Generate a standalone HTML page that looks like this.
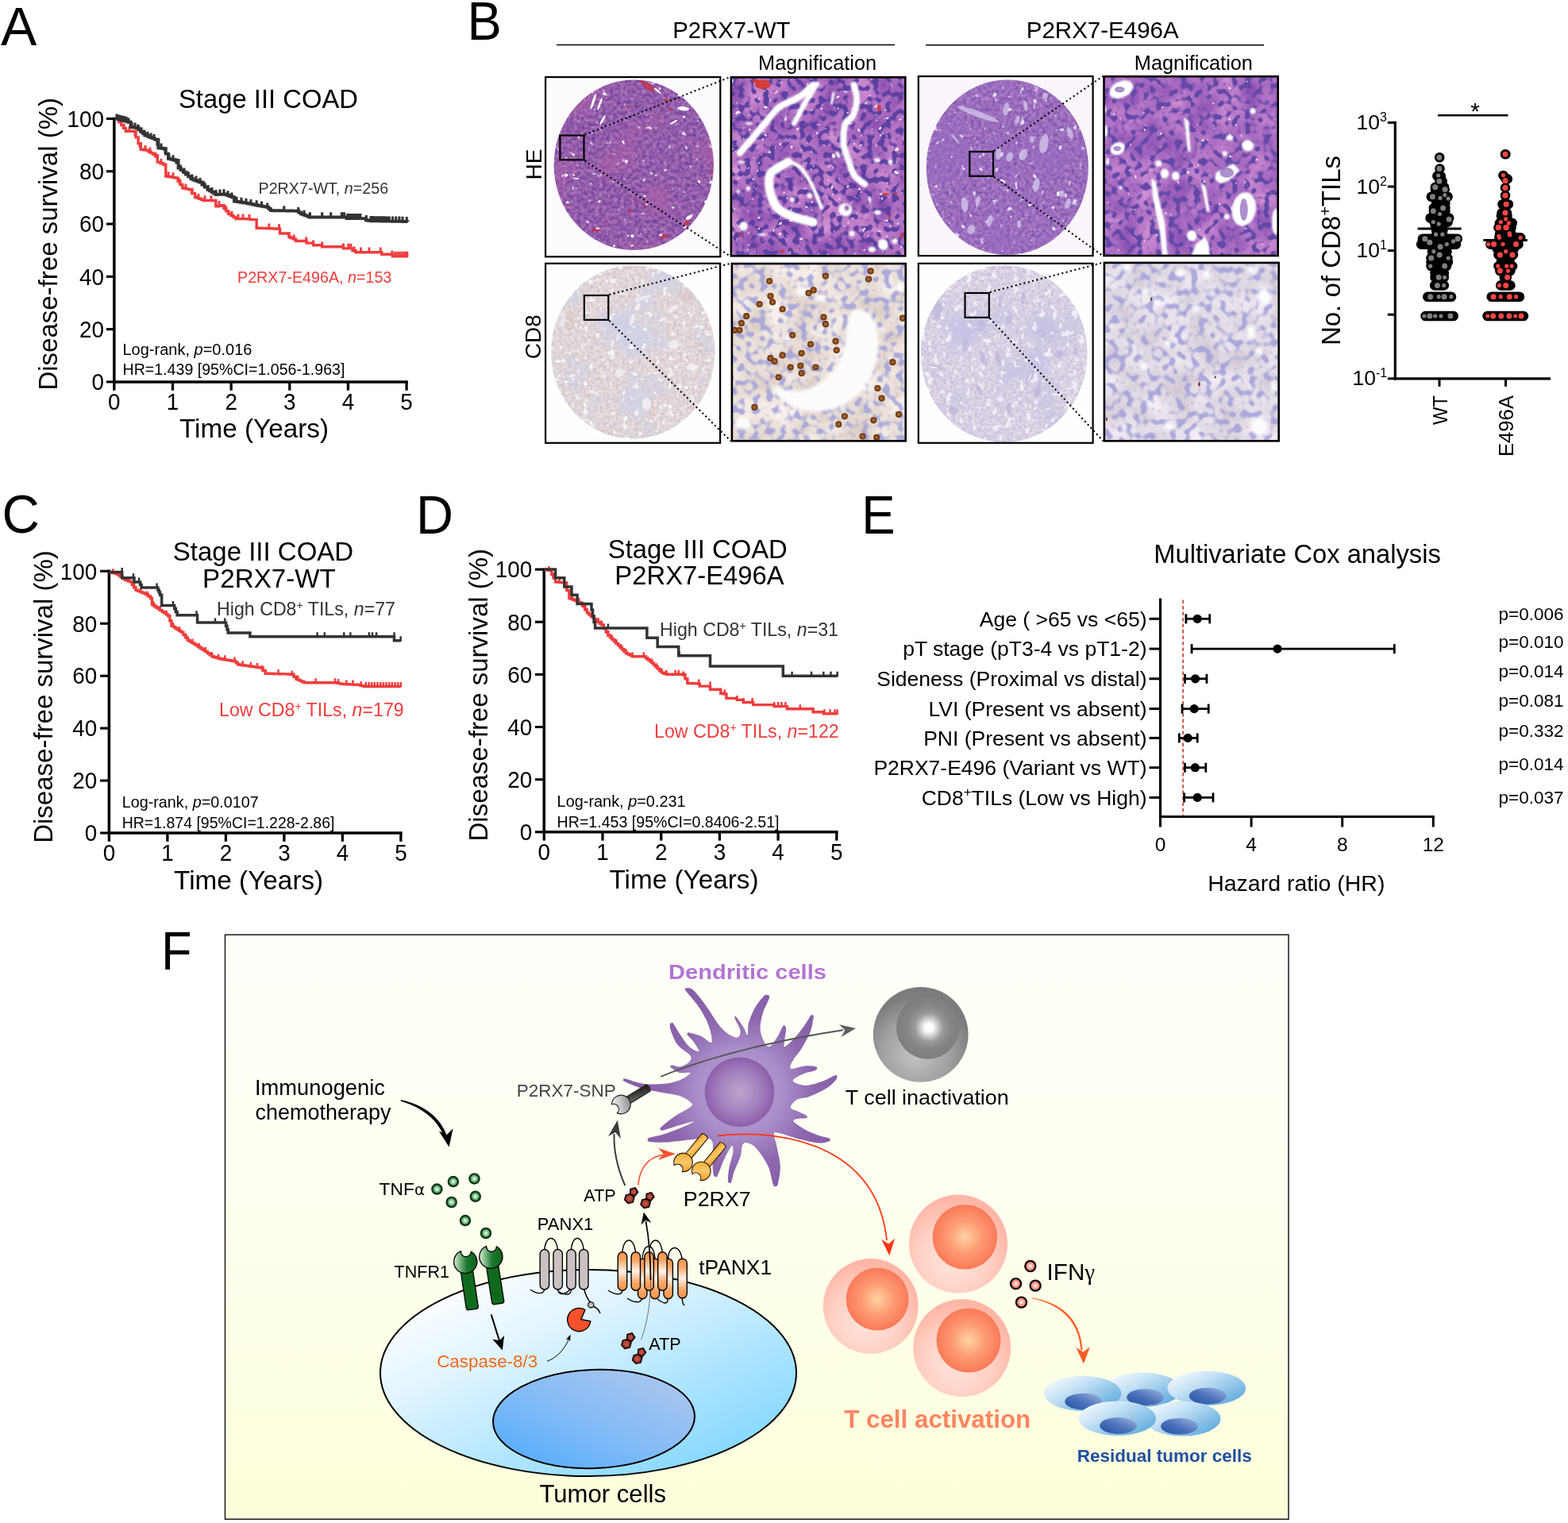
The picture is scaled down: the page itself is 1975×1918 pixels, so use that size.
<!DOCTYPE html>
<html lang="en"><head><meta charset="utf-8"><title>Figure</title>
<style>html,body{margin:0;padding:0;background:#fff}body{width:1975px;height:1918px;overflow:hidden}svg text{white-space:pre}</style></head>
<body>
<svg width="1975" height="1918" viewBox="0 0 1975 1918" font-family="'Liberation Sans', sans-serif" style="display:block">
<rect width="1975" height="1918" fill="#fff"/>
<defs>
<filter id="fHE1" x="0" y="0" width="100%" height="100%" color-interpolation-filters="sRGB"><feTurbulence type="fractalNoise" baseFrequency="0.22" numOctaves="3" seed="11" result="n"/><feColorMatrix in="n" type="matrix" values="0.420 0.000 0.000 0.000 0.363 0.360 0.000 0.000 0.000 0.181 0.220 0.000 0.000 0.000 0.561 0 0 0 0 1" result="c"/><feTurbulence type="fractalNoise" baseFrequency="0.018" numOctaves="2" seed="16" result="n2"/><feColorMatrix in="n2" type="matrix" values="0 0 0 0 0.68  0 0 0 0 0.38  0 0 0 0 0.65  2.4 0 0 0 -1.15" result="t"/><feTurbulence type="fractalNoise" baseFrequency="0.12" numOctaves="2" seed="20" result="n3"/><feColorMatrix in="n3" type="matrix" values="0 0 0 0 1  0 0 0 0 0.98  0 0 0 0 1  0 0 9 0 -6.4" result="w"/><feMerge><feMergeNode in="c"/><feMergeNode in="t"/><feMergeNode in="w"/></feMerge><feComposite in2="SourceGraphic" operator="in"/></filter>
<filter id="fHE3" x="0" y="0" width="100%" height="100%" color-interpolation-filters="sRGB"><feTurbulence type="fractalNoise" baseFrequency="0.22" numOctaves="3" seed="31" result="n"/><feColorMatrix in="n" type="matrix" values="0.360 0.000 0.000 0.000 0.424 0.320 0.000 0.000 0.000 0.264 0.200 0.000 0.000 0.000 0.637 0 0 0 0 1" result="c"/><feTurbulence type="fractalNoise" baseFrequency="0.018" numOctaves="2" seed="36" result="n2"/><feColorMatrix in="n2" type="matrix" values="0 0 0 0 0.6  0 0 0 0 0.42  0 0 0 0 0.76  2.4 0 0 0 -1.15" result="t"/><feTurbulence type="fractalNoise" baseFrequency="0.12" numOctaves="2" seed="40" result="n3"/><feColorMatrix in="n3" type="matrix" values="0 0 0 0 0.9  0 0 0 0 0.88  0 0 0 0 0.97  0 0 9 0 -6.2" result="w"/><feMerge><feMergeNode in="c"/><feMergeNode in="t"/><feMergeNode in="w"/></feMerge><feComposite in2="SourceGraphic" operator="in"/></filter>
<filter id="fCD5" x="0" y="0" width="100%" height="100%" color-interpolation-filters="sRGB"><feTurbulence type="fractalNoise" baseFrequency="0.25" numOctaves="3" seed="41" result="n"/><feColorMatrix in="n" type="matrix" values="0.220 0.000 0.000 0.000 0.768 0.220 0.000 0.000 0.000 0.725 0.160 0.000 0.000 0.000 0.767 0 0 0 0 1" result="c"/><feTurbulence type="fractalNoise" baseFrequency="0.018" numOctaves="2" seed="46" result="n2"/><feColorMatrix in="n2" type="matrix" values="0 0 0 0 0.82  0 0 0 0 0.82  0 0 0 0 0.9  3.2 0 0 0 -1.45" result="t"/><feTurbulence type="fractalNoise" baseFrequency="0.12" numOctaves="2" seed="50" result="n3"/><feColorMatrix in="n3" type="matrix" values="0 0 0 0 0.97  0 0 0 0 0.96  0 0 0 0 0.97  0 0 9 0 -5.7" result="w"/><feMerge><feMergeNode in="c"/><feMergeNode in="t"/><feMergeNode in="w"/></feMerge><feComposite in2="SourceGraphic" operator="in"/></filter>
<filter id="fCD7" x="0" y="0" width="100%" height="100%" color-interpolation-filters="sRGB"><feTurbulence type="fractalNoise" baseFrequency="0.25" numOctaves="3" seed="57" result="n"/><feColorMatrix in="n" type="matrix" values="0.220 0.000 0.000 0.000 0.737 0.220 0.000 0.000 0.000 0.706 0.160 0.000 0.000 0.000 0.806 0 0 0 0 1" result="c"/><feTurbulence type="fractalNoise" baseFrequency="0.018" numOctaves="2" seed="62" result="n2"/><feColorMatrix in="n2" type="matrix" values="0 0 0 0 0.78  0 0 0 0 0.76  0 0 0 0 0.9  3.2 0 0 0 -1.45" result="t"/><feTurbulence type="fractalNoise" baseFrequency="0.12" numOctaves="2" seed="66" result="n3"/><feColorMatrix in="n3" type="matrix" values="0 0 0 0 0.95  0 0 0 0 0.93  0 0 0 0 0.96  0 0 9 0 -5.4" result="w"/><feMerge><feMergeNode in="c"/><feMergeNode in="t"/><feMergeNode in="w"/></feMerge><feComposite in2="SourceGraphic" operator="in"/></filter>
<filter id="fHE2" x="0" y="0" width="100%" height="100%" color-interpolation-filters="sRGB"><feTurbulence type="fractalNoise" baseFrequency="0.03" numOctaves="3" seed="3" result="n"/><feColorMatrix in="n" type="matrix" values="0.450 0.000 0.000 0.000 0.450 0.400 0.000 0.000 0.000 0.224 0.220 0.000 0.000 0.000 0.639 0 0 0 0 1" result="c"/><feTurbulence type="fractalNoise" baseFrequency="0.13" numOctaves="1" seed="23" result="n2"/><feColorMatrix in="n2" type="matrix" values="0 0 0 0 0.361  0 0 0 0 0.251  0 0 0 0 0.635  8 0 0 0 -3.95" result="d0"/><feComponentTransfer in="d0" result="d"><feFuncA type="linear" slope="1.0" intercept="0"/></feComponentTransfer><feTurbulence type="fractalNoise" baseFrequency="0.15" numOctaves="2" seed="43" result="n3"/><feColorMatrix in="n3" type="matrix" values="0 0 0 0 1  0 0 0 0 0.97  0 0 0 0 1  0 0 9 0 -6.3" result="w"/><feMerge><feMergeNode in="c"/><feMergeNode in="d"/><feMergeNode in="w"/></feMerge><feComposite in2="SourceGraphic" operator="in"/></filter>
<filter id="fHE4" x="0" y="0" width="100%" height="100%" color-interpolation-filters="sRGB"><feTurbulence type="fractalNoise" baseFrequency="0.03" numOctaves="3" seed="9" result="n"/><feColorMatrix in="n" type="matrix" values="0.420 0.000 0.000 0.000 0.465 0.380 0.000 0.000 0.000 0.241 0.200 0.000 0.000 0.000 0.661 0 0 0 0 1" result="c"/><feTurbulence type="fractalNoise" baseFrequency="0.125" numOctaves="1" seed="29" result="n2"/><feColorMatrix in="n2" type="matrix" values="0 0 0 0 0.384  0 0 0 0 0.282  0 0 0 0 0.659  8 0 0 0 -4.05" result="d0"/><feComponentTransfer in="d0" result="d"><feFuncA type="linear" slope="1.0" intercept="0"/></feComponentTransfer><feTurbulence type="fractalNoise" baseFrequency="0.15" numOctaves="2" seed="49" result="n3"/><feColorMatrix in="n3" type="matrix" values="0 0 0 0 1  0 0 0 0 0.97  0 0 0 0 1  0 0 9 0 -6.8" result="w"/><feMerge><feMergeNode in="c"/><feMergeNode in="d"/><feMergeNode in="w"/></feMerge><feComposite in2="SourceGraphic" operator="in"/></filter>
<filter id="fCD6" x="0" y="0" width="100%" height="100%" color-interpolation-filters="sRGB"><feTurbulence type="fractalNoise" baseFrequency="0.03" numOctaves="3" seed="13" result="n"/><feColorMatrix in="n" type="matrix" values="0.200 0.000 0.000 0.000 0.818 0.240 0.000 0.000 0.000 0.755 0.260 0.000 0.000 0.000 0.717 0 0 0 0 1" result="c"/><feTurbulence type="fractalNoise" baseFrequency="0.115" numOctaves="1" seed="33" result="n2"/><feColorMatrix in="n2" type="matrix" values="0 0 0 0 0.643  0 0 0 0 0.643  0 0 0 0 0.855  6 0 0 0 -2.95" result="d0"/><feComponentTransfer in="d0" result="d"><feFuncA type="linear" slope="0.9" intercept="0"/></feComponentTransfer><feMerge><feMergeNode in="c"/><feMergeNode in="d"/></feMerge><feComposite in2="SourceGraphic" operator="in"/></filter>
<filter id="fCD8" x="0" y="0" width="100%" height="100%" color-interpolation-filters="sRGB"><feTurbulence type="fractalNoise" baseFrequency="0.03" numOctaves="3" seed="17" result="n"/><feColorMatrix in="n" type="matrix" values="0.200 0.000 0.000 0.000 0.786 0.220 0.000 0.000 0.000 0.745 0.200 0.000 0.000 0.000 0.794 0 0 0 0 1" result="c"/><feTurbulence type="fractalNoise" baseFrequency="0.11" numOctaves="1" seed="37" result="n2"/><feColorMatrix in="n2" type="matrix" values="0 0 0 0 0.651  0 0 0 0 0.635  0 0 0 0 0.855  6 0 0 0 -2.95" result="d0"/><feComponentTransfer in="d0" result="d"><feFuncA type="linear" slope="0.9" intercept="0"/></feComponentTransfer><feMerge><feMergeNode in="c"/><feMergeNode in="d"/></feMerge><feComposite in2="SourceGraphic" operator="in"/></filter>
<filter id="bl1" x="-20%" y="-20%" width="140%" height="140%"><feGaussianBlur stdDeviation="1"/></filter>
<filter id="bl2" x="-20%" y="-20%" width="140%" height="140%"><feGaussianBlur stdDeviation="2"/></filter>
<filter id="bl05" x="-20%" y="-20%" width="140%" height="140%"><feGaussianBlur stdDeviation="0.6"/></filter>
<clipPath id="cb1"><rect x="687" y="97" width="220.4" height="226.4"/></clipPath>
<clipPath id="cb2"><rect x="920.6" y="97" width="220.0" height="225.6"/></clipPath>
<clipPath id="cb3"><rect x="1156.7" y="96" width="220.0" height="226.2"/></clipPath>
<clipPath id="cb4"><rect x="1390.2" y="96" width="219.8" height="226.3"/></clipPath>
<clipPath id="cb5"><rect x="687" y="331.7" width="220.2" height="226.2"/></clipPath>
<clipPath id="cb6"><rect x="921.6" y="331.7" width="219.4" height="223.9"/></clipPath>
<clipPath id="cb7"><rect x="1156.7" y="331.7" width="220.0" height="226.2"/></clipPath>
<clipPath id="cb8"><rect x="1390.6" y="330.6" width="220.4" height="225.0"/></clipPath>
<clipPath id="ce1"><ellipse cx="798.3" cy="207.8" rx="100.2" ry="106.8"/></clipPath>
<clipPath id="ce3"><ellipse cx="1268.8" cy="210.8" rx="101.6" ry="109.8"/></clipPath>
<clipPath id="ce5"><ellipse cx="797.3" cy="443.4" rx="102.7" ry="108.8"/></clipPath>
<clipPath id="ce7"><ellipse cx="1264.7" cy="445.5" rx="104.4" ry="110.9"/></clipPath>
</defs>
<defs>
<linearGradient id="gBg" x1="0" y1="0" x2="0" y2="1"><stop offset="0" stop-color="#fffffa"/><stop offset="0.45" stop-color="#fefff0"/><stop offset="1" stop-color="#fdffda"/></linearGradient>
<linearGradient id="gCell" x1="0.1" y1="0.1" x2="0.85" y2="0.9"><stop offset="0" stop-color="#ffffff"/><stop offset="0.3" stop-color="#e2f5ff"/><stop offset="0.75" stop-color="#a6e2ff"/><stop offset="1" stop-color="#86d8ff"/></linearGradient>
<linearGradient id="gNuc" x1="0.1" y1="0.9" x2="0.9" y2="0.1"><stop offset="0" stop-color="#58aefc"/><stop offset="0.5" stop-color="#86bcf6"/><stop offset="1" stop-color="#aac6ee"/></linearGradient>
<radialGradient id="gDC" gradientUnits="userSpaceOnUse" cx="932.0" cy="1375.5" r="125"><stop offset="0" stop-color="#b9a6d6"/><stop offset="0.45" stop-color="#a88cc8"/><stop offset="0.75" stop-color="#8e66ae"/><stop offset="1" stop-color="#8660a8"/></radialGradient>
<radialGradient id="gDCn" cx="0.5" cy="0.5" r="0.5"><stop offset="0" stop-color="#bfa3cf"/><stop offset="0.55" stop-color="#a684c0"/><stop offset="0.92" stop-color="#9166ae"/><stop offset="1" stop-color="#8a5ea8"/></radialGradient>
<radialGradient id="gTg" cx="0.45" cy="0.7" r="0.6"><stop offset="0" stop-color="#c4c4c4"/><stop offset="0.6" stop-color="#a0a0a0"/><stop offset="1" stop-color="#7c7c7c"/></radialGradient>
<radialGradient id="gTgn" cx="0.52" cy="0.5" r="0.5"><stop offset="0" stop-color="#ffffff"/><stop offset="0.12" stop-color="#ffffff"/><stop offset="0.45" stop-color="#9a9a9a"/><stop offset="0.7" stop-color="#858585"/><stop offset="1" stop-color="#7e7e7e"/></radialGradient>
<radialGradient id="gTp" cx="0.45" cy="0.65" r="0.6"><stop offset="0" stop-color="#ffe6de"/><stop offset="0.6" stop-color="#ffd0c4"/><stop offset="1" stop-color="#ffb6a6"/></radialGradient>
<radialGradient id="gTpn" cx="0.5" cy="0.5" r="0.5"><stop offset="0" stop-color="#ffd2a2"/><stop offset="0.5" stop-color="#fd9c74"/><stop offset="1" stop-color="#fa7a58"/></radialGradient>
<radialGradient id="gGreen" cx="0.5" cy="0.5" r="0.5"><stop offset="0" stop-color="#ffffff"/><stop offset="0.2" stop-color="#d0ecd2"/><stop offset="0.75" stop-color="#4a9e5c"/><stop offset="1" stop-color="#348a48"/></radialGradient>
<radialGradient id="gIfn" cx="0.5" cy="0.5" r="0.5"><stop offset="0" stop-color="#ffffff"/><stop offset="0.2" stop-color="#ffd8d0"/><stop offset="1" stop-color="#f0523c"/></radialGradient>
<linearGradient id="gRes" x1="0.1" y1="0.1" x2="0.95" y2="0.8"><stop offset="0" stop-color="#f2f8fd"/><stop offset="0.35" stop-color="#c6e2f5"/><stop offset="1" stop-color="#62acdf"/></linearGradient>
<linearGradient id="gResN" x1="0.1" y1="0.9" x2="0.9" y2="0.1"><stop offset="0" stop-color="#2a56a8"/><stop offset="0.5" stop-color="#4f74bc"/><stop offset="1" stop-color="#93abdb"/></linearGradient>
<linearGradient id="gOr" x1="0" y1="0" x2="0" y2="1"><stop offset="0" stop-color="#f6924a"/><stop offset="0.22" stop-color="#f9a868"/><stop offset="0.5" stop-color="#fff4ea"/><stop offset="0.78" stop-color="#f9a868"/><stop offset="1" stop-color="#f6924a"/></linearGradient>
<linearGradient id="gGrH" x1="0" y1="0" x2="1" y2="0"><stop offset="0" stop-color="#d4ecd4"/><stop offset="0.55" stop-color="#1d7a2e"/><stop offset="1" stop-color="#0b6318"/></linearGradient>
<linearGradient id="gP2" x1="0" y1="1" x2="1" y2="0"><stop offset="0" stop-color="#f29a16"/><stop offset="0.5" stop-color="#fbc869"/><stop offset="1" stop-color="#f0a020"/></linearGradient>
<linearGradient id="gSnpH" x1="0" y1="0.3" x2="1" y2="0.7"><stop offset="0" stop-color="#f4f4f4"/><stop offset="1" stop-color="#8c8c8c"/></linearGradient>
<linearGradient id="gSnpS" x1="0" y1="1" x2="1" y2="0"><stop offset="0" stop-color="#7a7a7a"/><stop offset="0.6" stop-color="#3a3434"/><stop offset="1" stop-color="#1c1818"/></linearGradient>
<radialGradient id="gAtp" cx="0.5" cy="0.5" r="0.5"><stop offset="0" stop-color="#d05848"/><stop offset="1" stop-color="#8c2a1c"/></radialGradient>
</defs>
<g id="panelA">
<text x="1.00" y="57.00" font-size="68" text-anchor="start" fill="#000">A</text>
<text x="338.00" y="136.00" font-size="32.8" text-anchor="middle" fill="#000">Stage III COAD</text>
<line x1="143.85" y1="147.80" x2="143.85" y2="482.60" stroke="#000" stroke-width="3.5"/>
<line x1="142.15" y1="480.90" x2="513.80" y2="480.90" stroke="#000" stroke-width="3.5"/>
<line x1="133.95" y1="480.90" x2="143.85" y2="480.90" stroke="#000" stroke-width="3.1"/>
<text x="130.95" y="491.20" font-size="29.2" text-anchor="end" fill="#000" textLength="15.5" lengthAdjust="spacingAndGlyphs">0</text>
<line x1="143.85" y1="480.90" x2="143.85" y2="491.70" stroke="#000" stroke-width="3.3"/>
<text x="143.85" y="515.60" font-size="29.2" text-anchor="middle" fill="#000" textLength="15.5" lengthAdjust="spacingAndGlyphs">0</text>
<line x1="133.95" y1="414.62" x2="143.85" y2="414.62" stroke="#000" stroke-width="3.1"/>
<text x="130.95" y="424.92" font-size="29.2" text-anchor="end" fill="#000" textLength="31.0" lengthAdjust="spacingAndGlyphs">20</text>
<line x1="217.50" y1="480.90" x2="217.50" y2="491.70" stroke="#000" stroke-width="3.3"/>
<text x="217.50" y="515.60" font-size="29.2" text-anchor="middle" fill="#000" textLength="15.5" lengthAdjust="spacingAndGlyphs">1</text>
<line x1="133.95" y1="348.34" x2="143.85" y2="348.34" stroke="#000" stroke-width="3.1"/>
<text x="130.95" y="358.64" font-size="29.2" text-anchor="end" fill="#000" textLength="31.0" lengthAdjust="spacingAndGlyphs">40</text>
<line x1="291.15" y1="480.90" x2="291.15" y2="491.70" stroke="#000" stroke-width="3.3"/>
<text x="291.15" y="515.60" font-size="29.2" text-anchor="middle" fill="#000" textLength="15.5" lengthAdjust="spacingAndGlyphs">2</text>
<line x1="133.95" y1="282.06" x2="143.85" y2="282.06" stroke="#000" stroke-width="3.1"/>
<text x="130.95" y="292.36" font-size="29.2" text-anchor="end" fill="#000" textLength="31.0" lengthAdjust="spacingAndGlyphs">60</text>
<line x1="364.80" y1="480.90" x2="364.80" y2="491.70" stroke="#000" stroke-width="3.3"/>
<text x="364.80" y="515.60" font-size="29.2" text-anchor="middle" fill="#000" textLength="15.5" lengthAdjust="spacingAndGlyphs">3</text>
<line x1="133.95" y1="215.78" x2="143.85" y2="215.78" stroke="#000" stroke-width="3.1"/>
<text x="130.95" y="226.08" font-size="29.2" text-anchor="end" fill="#000" textLength="31.0" lengthAdjust="spacingAndGlyphs">80</text>
<line x1="438.45" y1="480.90" x2="438.45" y2="491.70" stroke="#000" stroke-width="3.3"/>
<text x="438.45" y="515.60" font-size="29.2" text-anchor="middle" fill="#000" textLength="15.5" lengthAdjust="spacingAndGlyphs">4</text>
<line x1="133.95" y1="149.50" x2="143.85" y2="149.50" stroke="#000" stroke-width="3.1"/>
<text x="130.95" y="159.80" font-size="29.2" text-anchor="end" fill="#000" textLength="46.5" lengthAdjust="spacingAndGlyphs">100</text>
<line x1="512.10" y1="480.90" x2="512.10" y2="491.70" stroke="#000" stroke-width="3.3"/>
<text x="512.10" y="515.60" font-size="29.2" text-anchor="middle" fill="#000" textLength="15.5" lengthAdjust="spacingAndGlyphs">5</text>
<text x="319.98" y="550.50" font-size="33.3" text-anchor="middle" fill="#000">Time (Years)</text>
<text x="72.00" y="307.30" font-size="33" text-anchor="middle" fill="#000" transform="rotate(-90 72.00 307.30)">Disease-free survival (%)</text>
<path d="M145.8,149.5 L150.0,149.5 L150.0,153.7 L152.8,153.7 L152.8,157.5 L155.6,157.5 L155.6,161.4 L158.4,161.4 L158.4,165.2 L167.8,165.2 L171.0,165.2 L171.0,172.9 L174.1,172.9 L174.1,180.6 L177.3,180.6 L177.3,188.3 L181.0,188.3 L181.0,188.9 L184.7,188.9 L184.7,189.4 L187.3,189.4 L187.3,191.0 L189.9,191.0 L189.9,192.6 L192.6,192.6 L192.6,194.1 L195.2,194.1 L195.2,195.7 L198.3,195.7 L198.3,204.1 L202.0,204.1 L202.0,205.7 L205.7,205.7 L205.7,207.3 L208.8,207.3 L208.8,222.0 L212.0,222.0 L212.0,222.5 L215.1,222.5 L215.1,223.1 L218.2,223.1 L218.2,223.6 L221.4,223.6 L221.4,224.1 L224.2,224.1 L224.2,228.3 L227.0,228.3 L227.0,232.5 L229.8,232.5 L229.8,236.7 L232.6,236.7 L232.6,237.4 L235.5,237.4 L235.5,238.1 L238.3,238.1 L238.3,238.8 L241.9,238.8 L241.9,243.6 L245.6,243.6 L245.6,248.3 L248.2,248.3 L248.2,249.4 L250.9,249.4 L250.9,250.4 L253.5,250.4 L253.5,251.4 L256.1,251.4 L256.1,252.5 L269.8,252.5 L271.9,252.5 L271.9,259.8 L275.5,259.8 L275.5,259.3 L279.2,259.3 L279.2,258.8 L282.0,258.8 L282.0,262.3 L284.8,262.3 L284.8,265.8 L287.6,265.8 L287.6,269.3 L290.8,269.3 L290.8,271.4 L293.9,271.4 L293.9,273.5 L297.1,273.5 L297.1,275.6 L308.7,275.6 L311.3,275.6 L311.3,275.9 L313.9,275.9 L313.9,276.1 L316.6,276.1 L316.6,276.4 L319.2,276.4 L319.2,276.6 L323.2,276.6 L323.2,287.2 L326.3,287.2 L326.3,287.3 L329.5,287.3 L329.5,287.4 L332.6,287.4 L332.6,287.5 L335.8,287.5 L335.8,287.6 L338.9,287.6 L338.9,287.8 L342.1,287.8 L342.1,287.9 L345.2,287.9 L345.2,288.0 L348.4,288.0 L348.4,288.1 L351.5,288.1 L351.5,288.2 L352.6,288.2 L352.6,294.0 L363.1,294.0 L364.1,294.0 L364.1,298.8 L366.8,298.8 L366.8,299.9 L369.4,299.9 L369.4,300.9 L372.5,300.9 L372.5,303.5 L385.2,303.5 L386.2,303.5 L386.2,306.1 L393.6,306.1 L394.6,306.1 L394.6,308.7 L405.1,308.7 L405.7,308.7 L405.7,310.8 L431.4,310.8 L432.5,310.8 L432.5,312.9 L441.9,312.9 L444.0,312.9 L444.0,315.6 L448.2,315.6 L448.2,317.7 L479.7,317.7 L480.8,317.7 L480.8,320.3 L493.4,320.3 L494.5,320.3 L494.5,322.9 L513.4,322.9" fill="none" stroke="#f03c3c" stroke-width="3.4" stroke-linejoin="miter" stroke-linecap="butt"/>
<path d="M150.0,154.7v-7.2M156.0,162.9v-7.2M163.0,166.2v-7.2M170.0,171.5v-7.2M176.0,186.1v-7.2M183.0,190.1v-7.2M189.0,193.0v-7.2M196.0,198.9v-7.2M203.0,207.1v-7.2M212.0,223.5v-7.2M218.0,224.5v-7.2M226.0,232.0v-7.2M234.0,238.7v-7.2M242.0,244.6v-7.2M250.0,251.1v-7.2M258.0,253.5v-7.2M266.0,253.5v-7.2M276.0,260.2v-7.2M284.0,265.8v-7.2M292.0,273.2v-7.2M300.0,276.6v-7.2M306.0,276.6v-7.2M314.0,277.1v-7.2M338.9,288.8v-7.2M351.5,289.4v-7.2M364.1,299.8v-7.2M370.4,302.8v-7.2M385.7,305.8v-7.2M394.6,309.7v-7.2M405.7,311.6v-7.2M432.5,313.8v-7.2M438.8,313.9v-7.2M441.9,313.9v-7.2M446.1,317.7v-7.2M454.5,318.7v-7.2M465.0,318.7v-7.2M479.2,318.7v-7.2M493.9,322.6v-7.2M497.6,323.9v-7.2M500.8,323.9v-7.2M503.9,323.9v-7.2M507.1,323.9v-7.2M510.2,323.9v-7.2M512.9,323.9v-7.2" fill="none" stroke="#f03c3c" stroke-width="2.9"/>
<path d="M145.8,149.5 L148.9,149.5 L148.9,150.3 L152.1,150.3 L152.1,151.2 L155.2,151.2 L155.2,152.0 L158.4,152.0 L158.4,152.9 L161.5,152.9 L161.5,153.7 L164.7,153.7 L164.7,160.0 L168.3,160.0 L168.3,160.5 L172.0,160.5 L172.0,161.0 L174.6,161.0 L174.6,163.4 L177.2,163.4 L177.2,165.8 L179.9,165.8 L179.9,168.1 L182.5,168.1 L182.5,170.5 L185.7,170.5 L185.7,171.8 L188.8,171.8 L188.8,173.1 L192.0,173.1 L192.0,174.4 L195.2,174.4 L195.2,175.7 L199.4,175.7 L199.4,186.2 L202.6,186.2 L202.6,186.8 L205.7,186.8 L205.7,187.3 L208.8,187.3 L208.8,193.6 L212.0,193.6 L212.0,199.9 L214.8,199.9 L214.8,200.6 L217.6,200.6 L217.6,201.3 L220.4,201.3 L220.4,202.0 L224.6,202.0 L224.6,211.5 L227.8,211.5 L227.8,214.1 L230.9,214.1 L230.9,216.7 L234.0,216.7 L234.0,219.5 L237.2,219.5 L237.2,222.3 L240.3,222.3 L240.3,225.1 L243.0,225.1 L243.0,226.2 L245.6,226.2 L245.6,227.2 L248.2,227.2 L248.2,228.2 L250.9,228.2 L250.9,229.3 L254.4,229.3 L254.4,232.5 L257.9,232.5 L257.9,235.6 L261.4,235.6 L261.4,238.8 L264.0,238.8 L264.0,240.4 L266.6,240.4 L266.6,241.9 L269.3,241.9 L269.3,243.5 L271.9,243.5 L271.9,245.1 L274.5,245.1 L274.5,244.9 L277.1,244.9 L277.1,244.8 L279.8,244.8 L279.8,244.7 L282.4,244.7 L282.4,244.5 L285.5,244.5 L285.5,245.8 L288.7,245.8 L288.7,247.0 L291.8,247.0 L291.8,248.3 L295.0,248.3 L295.0,253.5 L297.7,253.5 L297.7,253.9 L300.5,253.9 L300.5,254.3 L303.2,254.3 L303.2,254.8 L306.0,254.8 L306.0,255.2 L308.7,255.2 L308.7,255.6 L311.8,255.6 L311.8,256.2 L315.0,256.2 L315.0,256.9 L318.1,256.9 L318.1,257.5 L321.3,257.5 L321.3,258.2 L324.4,258.2 L324.4,258.8 L327.2,258.8 L327.2,259.3 L330.1,259.3 L330.1,259.9 L332.9,259.9 L332.9,260.4 L335.8,260.4 L335.8,260.9 L338.4,260.9 L338.4,263.0 L341.0,263.0 L341.0,265.1 L344.0,265.1 L344.0,265.2 L346.9,265.2 L346.9,265.2 L349.9,265.2 L349.9,265.3 L352.9,265.3 L352.9,265.3 L355.8,265.3 L355.8,265.4 L358.8,265.4 L358.8,265.4 L361.7,265.4 L361.7,265.5 L364.7,265.5 L364.7,265.5 L367.7,265.5 L367.7,265.6 L370.6,265.6 L370.6,265.6 L373.6,265.6 L373.6,265.7 L376.2,265.7 L376.2,267.5 L378.9,267.5 L378.9,269.3 L381.5,269.3 L381.5,270.4 L384.1,270.4 L384.1,271.4 L386.8,271.4 L386.8,272.4 L389.4,272.4 L389.4,273.5 L434.6,273.5 L436.7,273.5 L436.7,275.1 L458.7,275.1 L460.8,275.1 L460.8,277.2 L464.0,277.2 L464.0,277.8 L467.1,277.8 L467.1,278.3 L470.2,278.3 L470.2,278.3 L473.2,278.3 L473.2,278.4 L476.3,278.4 L476.3,278.4 L479.4,278.4 L479.4,278.5 L482.4,278.5 L482.4,278.5 L485.5,278.5 L485.5,278.6 L488.6,278.6 L488.6,278.6 L491.6,278.6 L491.6,278.6 L494.7,278.6 L494.7,278.7 L497.8,278.7 L497.8,278.7 L500.8,278.7 L500.8,278.8 L503.9,278.8 L503.9,278.8 L507.1,278.8 L507.1,279.0 L510.2,279.0 L510.2,279.1 L513.4,279.1 L513.4,279.3" fill="none" stroke="#333333" stroke-width="3.9" stroke-linejoin="miter" stroke-linecap="butt"/>
<path d="M147.0,150.8v-7.2M150.0,151.6v-7.2M153.0,152.4v-7.2M156.0,153.2v-7.2M159.0,154.0v-7.2M162.0,155.7v-7.2M166.0,161.2v-7.2M170.0,161.7v-7.2M174.0,163.8v-7.2M178.0,167.4v-7.2M182.0,171.0v-7.2M186.0,172.9v-7.2M190.0,174.6v-7.2M194.0,176.2v-7.2M198.0,183.7v-7.2M203.0,187.8v-7.2M208.0,192.9v-7.2M213.0,201.2v-7.2M218.0,202.4v-7.2M222.0,206.6v-7.2M227.0,214.5v-7.2M232.0,218.7v-7.2M237.0,223.2v-7.2M242.0,226.8v-7.2M247.0,228.8v-7.2M252.0,231.3v-7.2M257.0,235.8v-7.2M262.0,240.2v-7.2M267.0,243.2v-7.2M272.0,246.1v-7.2M277.0,245.8v-7.2M282.0,245.5v-7.2M287.0,247.4v-7.2M292.0,249.6v-7.2M298.0,255.0v-7.2M304.0,255.9v-7.2M310.0,256.9v-7.2M316.0,258.1v-7.2M323.2,259.5v-7.2M329.5,260.7v-7.2M336.8,262.7v-7.2M357.8,266.4v-7.2M375.7,268.1v-7.2M383.1,272.0v-7.2M390.4,274.5v-7.2M405.7,274.5v-7.2M416.7,274.5v-7.2M430.4,274.5v-7.2M433.5,274.5v-7.2M437.7,276.1v-7.2M440.0,276.1v-7.2M442.3,276.1v-7.2M444.6,276.1v-7.2M447.0,276.1v-7.2M449.3,276.1v-7.2M451.6,276.1v-7.2M453.9,276.1v-7.2M461.4,278.3v-7.2M467.1,279.3v-7.2M469.2,279.3v-7.2M471.3,279.4v-7.2M473.4,279.4v-7.2M475.5,279.4v-7.2M477.6,279.4v-7.2M479.7,279.5v-7.2M481.8,279.5v-7.2M484.0,279.5v-7.2M486.1,279.6v-7.2M488.2,279.6v-7.2M490.3,279.6v-7.2M494.5,279.7v-7.2M498.7,279.7v-7.2M502.9,279.8v-7.2M507.1,280.0v-7.2M512.3,280.2v-7.2" fill="none" stroke="#333333" stroke-width="3.1"/>
<text x="325.50" y="244.30" font-size="19.7" text-anchor="start" fill="#333333">P2RX7-WT, <tspan font-style="italic">n</tspan>=256</text>
<text x="299.00" y="355.50" font-size="19.7" text-anchor="start" fill="#f03c3c">P2RX7-E496A, <tspan font-style="italic">n</tspan>=153</text>
<text x="154.50" y="446.80" font-size="20" text-anchor="start" fill="#000">Log-rank, <tspan font-style="italic">p</tspan>=0.016</text>
<text x="154.50" y="472.30" font-size="19.6" text-anchor="start" fill="#000">HR=1.439 [95%CI=1.056-1.963]</text>
</g>
<g id="panelC">
<text x="2.50" y="670.50" font-size="68" text-anchor="start" fill="#000" textLength="47.4" lengthAdjust="spacingAndGlyphs">C</text>
<text x="331.50" y="705.50" font-size="33" text-anchor="middle" fill="#000">Stage III COAD</text>
<text x="339.00" y="739.50" font-size="33.2" text-anchor="middle" fill="#000">P2RX7-WT</text>
<line x1="137.40" y1="717.60" x2="137.40" y2="1050.70" stroke="#000" stroke-width="3.5"/>
<line x1="135.70" y1="1049.00" x2="506.60" y2="1049.00" stroke="#000" stroke-width="3.5"/>
<line x1="126.10" y1="1049.00" x2="137.40" y2="1049.00" stroke="#000" stroke-width="3.1"/>
<text x="122.30" y="1059.30" font-size="29.2" text-anchor="end" fill="#000" textLength="15.5" lengthAdjust="spacingAndGlyphs">0</text>
<line x1="137.40" y1="1049.00" x2="137.40" y2="1059.80" stroke="#000" stroke-width="3.3"/>
<text x="137.40" y="1084.20" font-size="29.2" text-anchor="middle" fill="#000" textLength="15.5" lengthAdjust="spacingAndGlyphs">0</text>
<line x1="126.10" y1="983.06" x2="137.40" y2="983.06" stroke="#000" stroke-width="3.1"/>
<text x="122.30" y="993.36" font-size="29.2" text-anchor="end" fill="#000" textLength="31.0" lengthAdjust="spacingAndGlyphs">20</text>
<line x1="210.90" y1="1049.00" x2="210.90" y2="1059.80" stroke="#000" stroke-width="3.3"/>
<text x="210.90" y="1084.20" font-size="29.2" text-anchor="middle" fill="#000" textLength="15.5" lengthAdjust="spacingAndGlyphs">1</text>
<line x1="126.10" y1="917.12" x2="137.40" y2="917.12" stroke="#000" stroke-width="3.1"/>
<text x="122.30" y="927.42" font-size="29.2" text-anchor="end" fill="#000" textLength="31.0" lengthAdjust="spacingAndGlyphs">40</text>
<line x1="284.40" y1="1049.00" x2="284.40" y2="1059.80" stroke="#000" stroke-width="3.3"/>
<text x="284.40" y="1084.20" font-size="29.2" text-anchor="middle" fill="#000" textLength="15.5" lengthAdjust="spacingAndGlyphs">2</text>
<line x1="126.10" y1="851.18" x2="137.40" y2="851.18" stroke="#000" stroke-width="3.1"/>
<text x="122.30" y="861.48" font-size="29.2" text-anchor="end" fill="#000" textLength="31.0" lengthAdjust="spacingAndGlyphs">60</text>
<line x1="357.90" y1="1049.00" x2="357.90" y2="1059.80" stroke="#000" stroke-width="3.3"/>
<text x="357.90" y="1084.20" font-size="29.2" text-anchor="middle" fill="#000" textLength="15.5" lengthAdjust="spacingAndGlyphs">3</text>
<line x1="126.10" y1="785.24" x2="137.40" y2="785.24" stroke="#000" stroke-width="3.1"/>
<text x="122.30" y="795.54" font-size="29.2" text-anchor="end" fill="#000" textLength="31.0" lengthAdjust="spacingAndGlyphs">80</text>
<line x1="431.40" y1="1049.00" x2="431.40" y2="1059.80" stroke="#000" stroke-width="3.3"/>
<text x="431.40" y="1084.20" font-size="29.2" text-anchor="middle" fill="#000" textLength="15.5" lengthAdjust="spacingAndGlyphs">4</text>
<line x1="126.10" y1="719.30" x2="137.40" y2="719.30" stroke="#000" stroke-width="3.1"/>
<text x="122.30" y="729.60" font-size="29.2" text-anchor="end" fill="#000" textLength="46.5" lengthAdjust="spacingAndGlyphs">100</text>
<line x1="504.90" y1="1049.00" x2="504.90" y2="1059.80" stroke="#000" stroke-width="3.3"/>
<text x="504.90" y="1084.20" font-size="29.2" text-anchor="middle" fill="#000" textLength="15.5" lengthAdjust="spacingAndGlyphs">5</text>
<text x="313.15" y="1120.00" font-size="33.3" text-anchor="middle" fill="#000">Time (Years)</text>
<text x="66.00" y="877.50" font-size="33" text-anchor="middle" fill="#000" transform="rotate(-90 66.00 877.50)">Disease-free survival (%)</text>
<path d="M137.3,720.6 L139.6,720.6 L139.6,721.1 L141.9,721.1 L141.9,721.6 L144.2,721.6 L144.2,722.1 L146.5,722.1 L146.5,722.7 L149.1,722.7 L149.1,724.4 L151.6,724.4 L151.6,726.2 L154.2,726.2 L154.2,728.0 L156.7,728.0 L156.7,729.8 L159.1,729.8 L159.1,730.8 L161.5,730.8 L161.5,731.8 L163.9,731.8 L163.9,732.9 L166.3,732.9 L166.3,736.3 L168.6,736.3 L168.6,739.7 L171.0,739.7 L171.0,743.1 L173.5,743.1 L173.5,744.1 L175.9,744.1 L175.9,745.1 L178.4,745.1 L178.4,746.1 L180.8,746.1 L180.8,747.1 L183.3,747.1 L183.3,748.2 L186.3,748.2 L186.3,750.7 L189.4,750.7 L189.4,753.3 L191.4,753.3 L191.4,761.4 L194.0,761.4 L194.0,763.2 L196.5,763.2 L196.5,765.0 L199.1,765.0 L199.1,766.8 L201.6,766.8 L201.6,768.6 L204.2,768.6 L204.2,770.4 L206.7,770.4 L206.7,772.1 L209.3,772.1 L209.3,773.9 L211.8,773.9 L211.8,775.7 L213.9,775.7 L213.9,781.8 L215.9,781.8 L215.9,788.0 L218.4,788.0 L218.4,789.6 L220.8,789.6 L220.8,791.2 L223.3,791.2 L223.3,792.9 L225.7,792.9 L225.7,794.5 L228.2,794.5 L228.2,796.1 L230.9,796.1 L230.9,799.5 L233.6,799.5 L233.6,802.9 L236.3,802.9 L236.3,806.3 L238.9,806.3 L238.9,807.9 L241.4,807.9 L241.4,809.4 L244.0,809.4 L244.0,810.9 L246.5,810.9 L246.5,812.4 L249.0,812.4 L249.0,814.1 L251.4,814.1 L251.4,815.7 L253.9,815.7 L253.9,817.3 L256.3,817.3 L256.3,819.0 L258.8,819.0 L258.8,820.6 L261.5,820.6 L261.5,822.7 L264.2,822.7 L264.2,824.7 L266.9,824.7 L266.9,826.7 L269.5,826.7 L269.5,827.5 L272.0,827.5 L272.0,828.3 L274.6,828.3 L274.6,829.0 L277.1,829.0 L277.1,829.8 L279.8,829.8 L279.8,830.2 L282.4,830.2 L282.4,830.7 L285.0,830.7 L285.0,831.1 L287.6,831.1 L287.6,831.5 L290.3,831.5 L290.3,832.0 L292.9,832.0 L292.9,832.4 L295.5,832.4 L295.5,832.9 L297.6,832.9 L297.6,834.9 L299.6,834.9 L299.6,836.9 L302.2,836.9 L302.2,837.3 L304.8,837.3 L304.8,837.7 L307.4,837.7 L307.4,838.1 L310.0,838.1 L310.0,838.4 L312.6,838.4 L312.6,838.8 L315.2,838.8 L315.2,839.2 L317.8,839.2 L317.8,839.5 L320.4,839.5 L320.4,839.9 L323.0,839.9 L323.0,840.3 L325.6,840.3 L325.6,840.6 L328.2,840.6 L328.2,841.0 L331.2,841.0 L331.2,844.6 L334.3,844.6 L334.3,848.2 L336.8,848.2 L336.8,848.2 L339.3,848.2 L339.3,848.3 L341.8,848.3 L341.8,848.4 L344.3,848.4 L344.3,848.5 L346.8,848.5 L346.8,848.6 L349.4,848.6 L349.4,848.6 L351.9,848.6 L351.9,848.7 L354.4,848.7 L354.4,848.8 L356.9,848.8 L356.9,848.9 L359.4,848.9 L359.4,848.9 L361.9,848.9 L361.9,849.0 L364.4,849.0 L364.4,849.1 L366.9,849.1 L366.9,849.2 L370.0,849.2 L370.0,852.2 L373.1,852.2 L373.1,855.3 L375.6,855.3 L375.6,856.4 L378.2,856.4 L378.2,857.6 L380.7,857.6 L380.7,858.7 L383.3,858.7 L383.3,859.8 L422.0,859.8 L424.8,859.8 L424.8,860.3 L427.5,860.3 L427.5,860.9 L430.2,860.9 L430.2,861.4 L432.8,861.4 L432.8,861.6 L435.3,861.6 L435.3,861.7 L437.9,861.7 L437.9,861.8 L440.4,861.8 L440.4,861.9 L443.0,861.9 L443.0,862.1 L445.5,862.1 L445.5,862.2 L448.1,862.2 L448.1,862.3 L450.6,862.3 L450.6,862.4 L453.3,862.4 L453.3,863.1 L456.1,863.1 L456.1,863.8 L458.8,863.8 L458.8,864.5 L504.7,864.5" fill="none" stroke="#f03c3c" stroke-width="3.4" stroke-linejoin="miter" stroke-linecap="butt"/>
<path d="M142.4,722.7v-6.5M150.6,726.5v-6.5M160.8,732.5v-6.5M169.0,741.1v-6.5M177.1,746.6v-6.5M185.3,750.9v-6.5M193.5,763.9v-6.5M201.6,769.6v-6.5M209.8,775.3v-6.5M218.0,790.3v-6.5M226.1,795.8v-6.5M234.3,804.8v-6.5M242.4,811.0v-6.5M250.6,816.2v-6.5M258.8,821.6v-6.5M266.9,827.7v-6.5M275.1,830.2v-6.5M283.3,831.8v-6.5M295.5,833.9v-6.5M305.7,838.8v-6.5M315.9,840.3v-6.5M324.1,841.4v-6.5M330.2,844.4v-6.5M350.6,849.7v-6.5M368.0,851.2v-6.5M375.1,857.2v-6.5M397.6,860.8v-6.5M422.0,860.8v-6.5M426.1,861.6v-6.5M436.3,862.7v-6.5M444.5,863.1v-6.5M454.7,864.5v-6.5M460.8,865.5v-6.5M464.5,865.5v-6.5M468.2,865.5v-6.5M471.8,865.5v-6.5M475.5,865.5v-6.5M479.2,865.5v-6.5M482.9,865.5v-6.5M486.5,865.5v-6.5M490.2,865.5v-6.5M493.9,865.5v-6.5M497.6,865.5v-6.5M501.2,865.5v-6.5M504.9,865.5v-6.5" fill="none" stroke="#f03c3c" stroke-width="2.5"/>
<path d="M137.3,720.6 L153.7,720.6 L153.7,727.8 L168.0,727.8 L169.0,727.8 L169.0,732.9 L175.1,732.9 L176.6,732.9 L176.6,736.4 L178.2,736.4 L178.2,740.0 L197.6,740.0 L198.9,740.0 L198.9,743.1 L200.3,743.1 L200.3,746.1 L201.6,746.1 L201.6,749.2 L203.7,749.2 L203.7,762.4 L218.0,762.4 L219.7,762.4 L219.7,766.5 L221.4,766.5 L221.4,770.6 L223.1,770.6 L223.1,774.7 L247.6,774.7 L248.6,774.7 L248.6,783.9 L283.3,783.9 L284.6,783.9 L284.6,788.3 L286.0,788.3 L286.0,792.7 L287.3,792.7 L287.3,797.1 L313.9,797.1 L314.9,797.1 L314.9,801.8 L496.5,801.8 L496.5,806.7 L504.7,806.7" fill="none" stroke="#333333" stroke-width="3.5" stroke-linejoin="miter" stroke-linecap="butt"/>
<path d="M153.7,721.6v-6.5M168.0,728.8v-6.5M175.1,733.9v-6.5M197.6,741.0v-6.5M218.0,763.4v-6.5M247.6,775.7v-6.5M271.0,784.9v-6.5M283.3,784.9v-6.5M314.9,802.8v-6.5M399.6,802.8v-6.5M408.8,802.8v-6.5M433.3,802.8v-6.5M441.4,802.8v-6.5M464.9,802.8v-6.5M469.0,802.8v-6.5M474.1,802.8v-6.5M496.5,802.8v-6.5M504.7,807.7v-6.5" fill="none" stroke="#333333" stroke-width="2.5"/>
<text x="273.00" y="774.70" font-size="23.2" text-anchor="start" fill="#333333">High CD8<tspan font-size="14" dy="-8">+</tspan><tspan dy="8"> TILs, </tspan><tspan font-style="italic">n</tspan>=77</text>
<text x="276.00" y="901.80" font-size="23.2" text-anchor="start" fill="#f03c3c">Low CD8<tspan font-size="14" dy="-8">+</tspan><tspan dy="8"> TILs, </tspan><tspan font-style="italic">n</tspan>=179</text>
<text x="153.70" y="1017.10" font-size="19.8" text-anchor="start" fill="#000">Log-rank, <tspan font-style="italic">p</tspan>=0.0107</text>
<text x="153.70" y="1042.70" font-size="19.5" text-anchor="start" fill="#000">HR=1.874 [95%CI=1.228-2.86]</text>
</g>
<g id="panelD">
<text x="524.00" y="671.50" font-size="68" text-anchor="start" fill="#000" textLength="47.0" lengthAdjust="spacingAndGlyphs">D</text>
<text x="878.80" y="702.50" font-size="32.8" text-anchor="middle" fill="#000">Stage III COAD</text>
<text x="881.00" y="735.50" font-size="32.8" text-anchor="middle" fill="#000">P2RX7-E496A</text>
<line x1="685.30" y1="715.40" x2="685.30" y2="1049.50" stroke="#000" stroke-width="3.5"/>
<line x1="683.60" y1="1047.80" x2="1055.50" y2="1047.80" stroke="#000" stroke-width="3.5"/>
<line x1="674.00" y1="1047.80" x2="685.30" y2="1047.80" stroke="#000" stroke-width="3.1"/>
<text x="670.20" y="1058.10" font-size="29.2" text-anchor="end" fill="#000" textLength="15.5" lengthAdjust="spacingAndGlyphs">0</text>
<line x1="685.30" y1="1047.80" x2="685.30" y2="1058.60" stroke="#000" stroke-width="3.3"/>
<text x="685.30" y="1082.80" font-size="29.2" text-anchor="middle" fill="#000" textLength="15.5" lengthAdjust="spacingAndGlyphs">0</text>
<line x1="674.00" y1="981.66" x2="685.30" y2="981.66" stroke="#000" stroke-width="3.1"/>
<text x="670.20" y="991.96" font-size="29.2" text-anchor="end" fill="#000" textLength="31.0" lengthAdjust="spacingAndGlyphs">20</text>
<line x1="759.00" y1="1047.80" x2="759.00" y2="1058.60" stroke="#000" stroke-width="3.3"/>
<text x="759.00" y="1082.80" font-size="29.2" text-anchor="middle" fill="#000" textLength="15.5" lengthAdjust="spacingAndGlyphs">1</text>
<line x1="674.00" y1="915.52" x2="685.30" y2="915.52" stroke="#000" stroke-width="3.1"/>
<text x="670.20" y="925.82" font-size="29.2" text-anchor="end" fill="#000" textLength="31.0" lengthAdjust="spacingAndGlyphs">40</text>
<line x1="832.70" y1="1047.80" x2="832.70" y2="1058.60" stroke="#000" stroke-width="3.3"/>
<text x="832.70" y="1082.80" font-size="29.2" text-anchor="middle" fill="#000" textLength="15.5" lengthAdjust="spacingAndGlyphs">2</text>
<line x1="674.00" y1="849.38" x2="685.30" y2="849.38" stroke="#000" stroke-width="3.1"/>
<text x="670.20" y="859.68" font-size="29.2" text-anchor="end" fill="#000" textLength="31.0" lengthAdjust="spacingAndGlyphs">60</text>
<line x1="906.40" y1="1047.80" x2="906.40" y2="1058.60" stroke="#000" stroke-width="3.3"/>
<text x="906.40" y="1082.80" font-size="29.2" text-anchor="middle" fill="#000" textLength="15.5" lengthAdjust="spacingAndGlyphs">3</text>
<line x1="674.00" y1="783.24" x2="685.30" y2="783.24" stroke="#000" stroke-width="3.1"/>
<text x="670.20" y="793.54" font-size="29.2" text-anchor="end" fill="#000" textLength="31.0" lengthAdjust="spacingAndGlyphs">80</text>
<line x1="980.10" y1="1047.80" x2="980.10" y2="1058.60" stroke="#000" stroke-width="3.3"/>
<text x="980.10" y="1082.80" font-size="29.2" text-anchor="middle" fill="#000" textLength="15.5" lengthAdjust="spacingAndGlyphs">4</text>
<line x1="674.00" y1="717.10" x2="685.30" y2="717.10" stroke="#000" stroke-width="3.1"/>
<text x="670.20" y="727.40" font-size="29.2" text-anchor="end" fill="#000" textLength="46.5" lengthAdjust="spacingAndGlyphs">100</text>
<line x1="1053.80" y1="1047.80" x2="1053.80" y2="1058.60" stroke="#000" stroke-width="3.3"/>
<text x="1053.80" y="1082.80" font-size="29.2" text-anchor="middle" fill="#000" textLength="15.5" lengthAdjust="spacingAndGlyphs">5</text>
<text x="861.55" y="1119.00" font-size="33.3" text-anchor="middle" fill="#000">Time (Years)</text>
<text x="613.80" y="875.20" font-size="33" text-anchor="middle" fill="#000" transform="rotate(-90 613.80 875.20)">Disease-free survival (%)</text>
<path d="M685.3,717.1 L687.7,717.1 L687.7,717.6 L690.1,717.6 L690.1,718.1 L692.4,718.1 L692.4,718.6 L694.8,718.6 L694.8,723.3 L697.2,723.3 L697.2,728.1 L699.6,728.1 L699.6,732.9 L702.4,732.9 L702.4,733.1 L705.2,733.1 L705.2,733.4 L708.0,733.4 L708.0,733.6 L710.8,733.6 L710.8,733.9 L713.9,733.9 L713.9,743.6 L716.9,743.6 L716.9,753.3 L719.3,753.3 L719.3,754.3 L721.7,754.3 L721.7,755.3 L724.1,755.3 L724.1,756.3 L726.5,756.3 L726.5,757.3 L728.8,757.3 L728.8,758.4 L731.2,758.4 L731.2,759.4 L733.9,759.4 L733.9,763.5 L736.7,763.5 L736.7,767.6 L739.4,767.6 L739.4,771.6 L741.7,771.6 L741.7,773.7 L744.0,773.7 L744.0,775.7 L746.3,775.7 L746.3,777.8 L748.6,777.8 L748.6,779.8 L750.9,779.8 L750.9,781.6 L753.2,781.6 L753.2,783.4 L755.5,783.4 L755.5,785.2 L757.8,785.2 L757.8,786.9 L760.5,786.9 L760.5,791.4 L763.2,791.4 L763.2,795.8 L765.9,795.8 L765.9,800.2 L768.5,800.2 L768.5,802.8 L771.0,802.8 L771.0,805.3 L773.6,805.3 L773.6,807.9 L776.1,807.9 L776.1,810.4 L778.6,810.4 L778.6,812.9 L781.0,812.9 L781.0,815.3 L783.5,815.3 L783.5,817.8 L785.9,817.8 L785.9,820.2 L788.4,820.2 L788.4,822.7 L791.1,822.7 L791.1,824.0 L793.8,824.0 L793.8,825.4 L796.5,825.4 L796.5,826.7 L810.8,826.7 L813.4,826.7 L813.4,828.8 L815.9,828.8 L815.9,830.8 L818.5,830.8 L818.5,832.9 L821.0,832.9 L821.0,834.9 L823.5,834.9 L823.5,837.3 L825.9,837.3 L825.9,839.8 L828.4,839.8 L828.4,842.2 L830.8,842.2 L830.8,844.7 L833.3,844.7 L833.3,847.1 L836.3,847.1 L836.3,848.2 L839.4,848.2 L839.4,849.2 L859.8,849.2 L862.9,849.2 L862.9,854.8 L865.9,854.8 L865.9,860.4 L868.3,860.4 L868.3,860.5 L870.7,860.5 L870.7,860.6 L873.1,860.6 L873.1,860.7 L875.4,860.7 L875.4,860.8 L877.8,860.8 L877.8,860.9 L880.2,860.9 L880.2,861.0 L881.2,861.0 L881.2,864.1 L894.5,864.1 L894.5,868.2 L906.7,868.2 L907.8,868.2 L907.8,873.3 L910.8,873.3 L910.8,873.8 L913.9,873.8 L913.9,874.3 L914.9,874.3 L914.9,879.4 L927.1,879.4 L928.2,879.4 L928.2,881.4 L935.3,881.4 L936.3,881.4 L936.3,884.5 L947.6,884.5 L948.6,884.5 L948.6,887.6 L974.1,887.6 L975.1,887.6 L975.1,889.6 L990.4,889.6 L991.4,889.6 L991.4,892.7 L1023.1,892.7 L1024.1,892.7 L1024.1,896.7 L1036.3,896.7 L1037.3,896.7 L1037.3,898.8 L1054.7,898.8" fill="none" stroke="#f03c3c" stroke-width="3.4" stroke-linejoin="miter" stroke-linecap="butt"/>
<path d="M691.4,719.4v-6.5M696.5,727.7v-6.5M704.7,734.3v-6.5M713.9,744.6v-6.5M721.0,756.0v-6.5M729.2,759.5v-6.5M737.3,769.6v-6.5M745.5,778.1v-6.5M753.7,784.8v-6.5M757.8,787.9v-6.5M763.9,797.9v-6.5M770.0,805.3v-6.5M776.1,811.4v-6.5M782.2,817.5v-6.5M788.4,823.7v-6.5M796.5,827.7v-6.5M810.8,827.7v-6.5M821.0,835.9v-6.5M827.1,842.0v-6.5M833.3,848.1v-6.5M839.4,850.2v-6.5M850.6,850.2v-6.5M854.7,850.2v-6.5M860.8,852.1v-6.5M865.9,861.4v-6.5M880.2,862.0v-6.5M894.5,865.1v-6.5M912.9,875.1v-6.5M928.2,882.4v-6.5M936.3,885.5v-6.5M947.6,885.5v-6.5M975.1,890.6v-6.5M980.2,890.6v-6.5M984.3,890.6v-6.5M989.4,890.6v-6.5M1007.8,893.7v-6.5M1024.1,897.7v-6.5M1038.4,899.8v-6.5M1045.5,899.8v-6.5M1051.6,899.8v-6.5M1054.7,899.8v-6.5" fill="none" stroke="#f03c3c" stroke-width="2.5"/>
<path d="M685.3,717.1 L699.6,717.1 L699.6,727.8 L710.8,727.8 L710.8,739.0 L720.0,739.0 L720.0,749.2 L727.1,749.2 L727.1,760.4 L743.5,760.4 L745.0,760.4 L745.0,768.1 L746.5,768.1 L746.5,775.7 L748.1,775.7 L748.1,783.4 L749.6,783.4 L749.6,791.0 L814.9,791.0 L814.9,803.3 L828.2,803.3 L828.2,814.5 L854.7,814.5 L854.7,825.7 L894.5,825.7 L894.5,839.0 L986.3,839.0 L986.3,851.2 L1054.7,851.2" fill="none" stroke="#333333" stroke-width="3.5" stroke-linejoin="miter" stroke-linecap="butt"/>
<path d="M765.9,792.0v-6.5M855.7,826.7v-6.5M997.6,852.2v-6.5M1022.0,852.2v-6.5M1037.3,852.2v-6.5M1046.5,852.2v-6.5M1054.7,852.2v-6.5" fill="none" stroke="#333333" stroke-width="2.5"/>
<text x="831.00" y="801.00" font-size="23.2" text-anchor="start" fill="#333333">High CD8<tspan font-size="14" dy="-8">+</tspan><tspan dy="8"> TILs, </tspan><tspan font-style="italic">n</tspan>=31</text>
<text x="824.00" y="929.40" font-size="23.2" text-anchor="start" fill="#f03c3c">Low CD8<tspan font-size="14" dy="-8">+</tspan><tspan dy="8"> TILs, </tspan><tspan font-style="italic">n</tspan>=122</text>
<text x="701.60" y="1016.10" font-size="19.9" text-anchor="start" fill="#000">Log-rank, <tspan font-style="italic">p</tspan>=0.231</text>
<text x="701.60" y="1042.00" font-size="19.6" text-anchor="start" fill="#000">HR=1.453 [95%CI=0.8406-2.51]</text>
</g>
<g id="panelE">
<text x="1085.30" y="671.50" font-size="68" text-anchor="start" fill="#000" textLength="42.3" lengthAdjust="spacingAndGlyphs">E</text>
<text x="1634.00" y="708.50" font-size="32.7" text-anchor="middle" fill="#000">Multivariate Cox analysis</text>
<line x1="1461.50" y1="753.40" x2="1461.50" y2="1030.00" stroke="#000" stroke-width="3.2"/>
<line x1="1460.00" y1="1028.50" x2="1806.80" y2="1028.50" stroke="#000" stroke-width="3.2"/>
<line x1="1461.50" y1="1028.50" x2="1461.50" y2="1041.50" stroke="#000" stroke-width="3"/>
<text x="1461.50" y="1072.00" font-size="24.5" text-anchor="middle" fill="#000">0</text>
<line x1="1576.10" y1="1028.50" x2="1576.10" y2="1041.50" stroke="#000" stroke-width="3"/>
<text x="1576.10" y="1072.00" font-size="24.5" text-anchor="middle" fill="#000">4</text>
<line x1="1690.70" y1="1028.50" x2="1690.70" y2="1041.50" stroke="#000" stroke-width="3"/>
<text x="1690.70" y="1072.00" font-size="24.5" text-anchor="middle" fill="#000">8</text>
<line x1="1805.30" y1="1028.50" x2="1805.30" y2="1041.50" stroke="#000" stroke-width="3"/>
<text x="1805.30" y="1072.00" font-size="24.5" text-anchor="middle" fill="#000">12</text>
<text x="1632.80" y="1121.50" font-size="28.5" text-anchor="middle" fill="#000">Hazard ratio (HR)</text>
<line x1="1490.15" y1="755.40" x2="1490.15" y2="1027.50" stroke="#c0392b" stroke-width="1.6" stroke-dasharray="4.5 3"/>
<line x1="1447.50" y1="779.30" x2="1461.50" y2="779.30" stroke="#000" stroke-width="3"/>
<text x="1444.50" y="788.60" font-size="26.5" text-anchor="end" fill="#000">Age ( &gt;65 vs &lt;65)</text>
<line x1="1493.87" y1="779.30" x2="1523.67" y2="779.30" stroke="#000" stroke-width="2.8"/>
<line x1="1493.87" y1="773.30" x2="1493.87" y2="785.30" stroke="#000" stroke-width="2.8"/>
<line x1="1523.67" y1="773.30" x2="1523.67" y2="785.30" stroke="#000" stroke-width="2.8"/>
<circle cx="1508.20" cy="779.30" r="5.60" fill="#000"/>
<text x="1887.60" y="781.00" font-size="22.5" text-anchor="start" fill="#000">p=0.006</text>
<line x1="1447.50" y1="817.10" x2="1461.50" y2="817.10" stroke="#000" stroke-width="3"/>
<text x="1444.50" y="826.40" font-size="26.5" text-anchor="end" fill="#000">pT stage (pT3-4 vs pT1-2)</text>
<line x1="1501.04" y1="817.10" x2="1756.31" y2="817.10" stroke="#000" stroke-width="2.8"/>
<line x1="1501.04" y1="811.10" x2="1501.04" y2="823.10" stroke="#000" stroke-width="2.8"/>
<line x1="1756.31" y1="811.10" x2="1756.31" y2="823.10" stroke="#000" stroke-width="2.8"/>
<circle cx="1609.05" cy="817.10" r="5.60" fill="#000"/>
<text x="1887.60" y="816.00" font-size="22.5" text-anchor="start" fill="#000">p=0.010</text>
<line x1="1447.50" y1="854.80" x2="1461.50" y2="854.80" stroke="#000" stroke-width="3"/>
<text x="1444.50" y="864.10" font-size="26.5" text-anchor="end" fill="#000">Sideness (Proximal vs distal)</text>
<line x1="1492.44" y1="854.80" x2="1519.95" y2="854.80" stroke="#000" stroke-width="2.8"/>
<line x1="1492.44" y1="848.80" x2="1492.44" y2="860.80" stroke="#000" stroke-width="2.8"/>
<line x1="1519.95" y1="848.80" x2="1519.95" y2="860.80" stroke="#000" stroke-width="2.8"/>
<circle cx="1505.62" cy="854.80" r="5.60" fill="#000"/>
<text x="1887.60" y="853.00" font-size="22.5" text-anchor="start" fill="#000">p=0.014</text>
<line x1="1447.50" y1="892.60" x2="1461.50" y2="892.60" stroke="#000" stroke-width="3"/>
<text x="1444.50" y="901.90" font-size="26.5" text-anchor="end" fill="#000">LVI (Present vs absent)</text>
<line x1="1489.00" y1="892.60" x2="1522.24" y2="892.60" stroke="#000" stroke-width="2.8"/>
<line x1="1489.00" y1="886.60" x2="1489.00" y2="898.60" stroke="#000" stroke-width="2.8"/>
<line x1="1522.24" y1="886.60" x2="1522.24" y2="898.60" stroke="#000" stroke-width="2.8"/>
<circle cx="1504.19" cy="892.60" r="5.60" fill="#000"/>
<text x="1887.60" y="890.00" font-size="22.5" text-anchor="start" fill="#000">p=0.081</text>
<line x1="1447.50" y1="929.40" x2="1461.50" y2="929.40" stroke="#000" stroke-width="3"/>
<text x="1444.50" y="938.70" font-size="26.5" text-anchor="end" fill="#000">PNI (Present vs absent)</text>
<line x1="1485.28" y1="929.40" x2="1508.20" y2="929.40" stroke="#000" stroke-width="2.8"/>
<line x1="1485.28" y1="923.40" x2="1485.28" y2="935.40" stroke="#000" stroke-width="2.8"/>
<line x1="1508.20" y1="923.40" x2="1508.20" y2="935.40" stroke="#000" stroke-width="2.8"/>
<circle cx="1496.17" cy="929.40" r="5.60" fill="#000"/>
<text x="1887.60" y="927.50" font-size="22.5" text-anchor="start" fill="#000">p=0.332</text>
<line x1="1447.50" y1="966.70" x2="1461.50" y2="966.70" stroke="#000" stroke-width="3"/>
<text x="1444.50" y="976.00" font-size="26.5" text-anchor="end" fill="#000">P2RX7-E496 (Variant vs WT)</text>
<line x1="1492.44" y1="966.70" x2="1518.80" y2="966.70" stroke="#000" stroke-width="2.8"/>
<line x1="1492.44" y1="960.70" x2="1492.44" y2="972.70" stroke="#000" stroke-width="2.8"/>
<line x1="1518.80" y1="960.70" x2="1518.80" y2="972.70" stroke="#000" stroke-width="2.8"/>
<circle cx="1505.33" cy="966.70" r="5.60" fill="#000"/>
<text x="1887.60" y="970.00" font-size="22.5" text-anchor="start" fill="#000">p=0.014</text>
<line x1="1447.50" y1="1004.40" x2="1461.50" y2="1004.40" stroke="#000" stroke-width="3"/>
<text x="1444.50" y="1013.70" font-size="26.5" text-anchor="end" fill="#000">CD8<tspan font-size="17" dy="-11">+</tspan><tspan dy="11">TILs (Low vs High)</tspan></text>
<line x1="1491.58" y1="1004.40" x2="1527.97" y2="1004.40" stroke="#000" stroke-width="2.8"/>
<line x1="1491.58" y1="998.40" x2="1491.58" y2="1010.40" stroke="#000" stroke-width="2.8"/>
<line x1="1527.97" y1="998.40" x2="1527.97" y2="1010.40" stroke="#000" stroke-width="2.8"/>
<circle cx="1508.20" cy="1004.40" r="5.60" fill="#000"/>
<text x="1887.60" y="1011.50" font-size="22.5" text-anchor="start" fill="#000">p=0.037</text>
</g>
<g id="scatter">
<line x1="1757.30" y1="152.80" x2="1757.30" y2="478.40" stroke="#000" stroke-width="3.2"/>
<line x1="1755.70" y1="476.80" x2="1953.00" y2="476.80" stroke="#000" stroke-width="3.2"/>
<line x1="1747.80" y1="154.40" x2="1757.30" y2="154.40" stroke="#000" stroke-width="3"/>
<text x="1708.50" y="162.90" font-size="26.5" text-anchor="start" fill="#000">10<tspan font-size="16" dy="-10">3</tspan></text>
<line x1="1747.80" y1="235.00" x2="1757.30" y2="235.00" stroke="#000" stroke-width="3"/>
<text x="1708.50" y="243.50" font-size="26.5" text-anchor="start" fill="#000">10<tspan font-size="16" dy="-10">2</tspan></text>
<line x1="1747.80" y1="315.60" x2="1757.30" y2="315.60" stroke="#000" stroke-width="3"/>
<text x="1708.50" y="324.10" font-size="26.5" text-anchor="start" fill="#000">10<tspan font-size="16" dy="-10">1</tspan></text>
<line x1="1747.80" y1="396.20" x2="1757.30" y2="396.20" stroke="#000" stroke-width="3"/>
<line x1="1747.80" y1="476.80" x2="1757.30" y2="476.80" stroke="#000" stroke-width="3"/>
<text x="1703.50" y="485.30" font-size="26.5" text-anchor="start" fill="#000">10<tspan font-size="16" dy="-10">-1</tspan></text>
<line x1="1813.00" y1="476.80" x2="1813.00" y2="486.80" stroke="#000" stroke-width="3"/>
<line x1="1896.50" y1="476.80" x2="1896.50" y2="486.80" stroke="#000" stroke-width="3"/>
<text x="1822.50" y="498.00" font-size="26" text-anchor="end" fill="#000" transform="rotate(-90 1822.50 498.00)" textLength="37.0" lengthAdjust="spacingAndGlyphs">WT</text>
<text x="1906.00" y="498.00" font-size="26" text-anchor="end" fill="#000" transform="rotate(-90 1906.00 498.00)" textLength="77.0" lengthAdjust="spacingAndGlyphs">E496A</text>
<text x="1687.50" y="315.50" font-size="33" text-anchor="middle" fill="#000" transform="rotate(-90 1687.50 315.50)">No. of CD8<tspan font-size="20" dy="-12">+</tspan><tspan dy="12">TILs</tspan></text>
<line x1="1811.00" y1="145.20" x2="1899.50" y2="145.20" stroke="#000" stroke-width="2.4"/>
<text x="1858.20" y="150.00" font-size="30" text-anchor="middle" fill="#000">*</text>
<line x1="1785.70" y1="288.10" x2="1840.60" y2="288.10" stroke="#000" stroke-width="3"/>
<line x1="1868.30" y1="302.50" x2="1923.80" y2="302.50" stroke="#000" stroke-width="3"/>
<path d="M1813.2,198.3H1813.2M1813.5,212.5H1813.5M1810.3,221.6H1814.8M1813.5,228.2H1816.7M1807.8,235.8H1819.2M1807.8,238.6H1819.8M1802.8,247.8H1823.6M1809.1,255.7H1820.4M1805.9,262.0H1820.4M1805.9,265.8H1820.4M1801.5,274.6H1825.2M1806.6,279.6H1823.6M1807.8,284.0H1817.3M1809.1,290.3H1817.3M1810.3,288.3H1816.0M1809.4,295.2H1817.0M1791.9,300.7H1835.8M1790.1,307.6H1834.0M1803.9,316.7H1822.5M1802.5,325.0H1823.4M1802.5,330.1H1823.9M1802.5,335.1H1822.0M1807.5,344.3H1818.8M1807.5,349.3H1818.8M1807.1,359.4H1818.8M1798.3,373.7H1828.0M1795.6,398.0H1830.7" stroke="#000" stroke-width="12.6" stroke-linecap="round" fill="none"/>
<g fill="#7f7f7f">
<circle cx="1812.9" cy="198.3" r="3.5"/>
<circle cx="1812.9" cy="212.5" r="3.5"/>
<circle cx="1812.9" cy="228.2" r="3.5"/>
<circle cx="1807.8" cy="235.8" r="3.5"/>
<circle cx="1820.1" cy="238.6" r="3.5"/>
<circle cx="1804.4" cy="247.8" r="3.5"/>
<circle cx="1817.6" cy="262.0" r="3.5"/>
<circle cx="1805.3" cy="265.8" r="3.5"/>
<circle cx="1813.5" cy="269.5" r="2.6"/>
<circle cx="1825.2" cy="276.2" r="3.5"/>
<circle cx="1811.6" cy="221.0" r="2.6"/>
<circle cx="1819.8" cy="245.6" r="2.6"/>
<circle cx="1814.1" cy="249.4" r="2.6"/>
<circle cx="1824.2" cy="250.0" r="2.6"/>
<circle cx="1805.3" cy="279.6" r="2.6"/>
<circle cx="1812.2" cy="282.1" r="2.6"/>
<circle cx="1801.7" cy="373.7" r="3.5"/>
<circle cx="1819.1" cy="373.7" r="3.5"/>
<circle cx="1827.9" cy="373.7" r="2.6"/>
<circle cx="1812.2" cy="373.7" r="2.6"/>
<circle cx="1800.8" cy="398.0" r="3.5"/>
<circle cx="1815.0" cy="398.0" r="2.6"/>
<circle cx="1826.9" cy="398.0" r="3.5"/>
<circle cx="1793.9" cy="398.0" r="2.6"/>
<circle cx="1807.7" cy="398.0" r="2.6"/>
<circle cx="1810.4" cy="359.4" r="3.5"/>
<circle cx="1818.7" cy="359.4" r="2.6"/>
<circle cx="1812.2" cy="349.3" r="3.5"/>
<circle cx="1819.6" cy="349.3" r="2.6"/>
<circle cx="1819.6" cy="335.1" r="3.5"/>
<circle cx="1801.7" cy="335.1" r="2.6"/>
<circle cx="1802.6" cy="325.0" r="3.5"/>
<circle cx="1824.2" cy="325.0" r="2.6"/>
<circle cx="1813.2" cy="320.9" r="3.5"/>
<circle cx="1805.8" cy="316.7" r="2.6"/>
<circle cx="1814.1" cy="310.8" r="3.5"/>
<circle cx="1800.8" cy="305.3" r="3.5"/>
<circle cx="1794.8" cy="300.7" r="3.5"/>
<circle cx="1836.1" cy="300.7" r="3.5"/>
<circle cx="1808.6" cy="295.2" r="2.6"/>
<circle cx="1816.8" cy="295.2" r="2.6"/>
<circle cx="1830.6" cy="303.9" r="2.6"/>
<circle cx="1822.3" cy="307.6" r="2.6"/>
</g>
<path d="M1896.0,194.2H1896.3M1893.5,221.0H1893.5M1896.6,225.4H1898.8M1896.0,236.4H1896.0M1896.0,246.2H1896.0M1892.5,257.2H1899.8M1891.6,268.3H1897.9M1890.9,272.1H1898.5M1889.0,280.9H1904.8M1887.5,286.6H1903.6M1889.0,296.0H1902.9M1887.4,286.4H1899.6M1889.3,293.8H1903.3M1888.3,299.3H1915.2M1877.3,307.6H1912.5M1885.6,313.1H1907.0M1887.4,320.9H1906.0M1891.1,327.8H1901.5M1887.4,335.1H1905.1M1889.3,341.1H1902.4M1894.8,349.3H1897.8M1890.2,359.4H1902.4M1878.7,373.7H1913.9M1873.6,398.0H1918.9" stroke="#000" stroke-width="12.6" stroke-linecap="round" fill="none"/>
<g fill="#ff4545">
<circle cx="1896.0" cy="194.2" r="3.5"/>
<circle cx="1893.5" cy="220.7" r="2.6"/>
<circle cx="1896.0" cy="227.6" r="3.5"/>
<circle cx="1896.0" cy="236.4" r="3.5"/>
<circle cx="1896.0" cy="246.2" r="3.5"/>
<circle cx="1897.2" cy="257.2" r="3.5"/>
<circle cx="1896.0" cy="268.0" r="3.5"/>
<circle cx="1887.2" cy="286.6" r="3.5"/>
<circle cx="1896.9" cy="286.6" r="3.5"/>
<circle cx="1890.3" cy="279.6" r="2.6"/>
<circle cx="1900.4" cy="280.9" r="2.6"/>
<circle cx="1896.6" cy="275.8" r="2.6"/>
<circle cx="1901.7" cy="296.0" r="2.6"/>
<circle cx="1887.8" cy="297.3" r="2.6"/>
<circle cx="1880.7" cy="398.0" r="3.5"/>
<circle cx="1890.8" cy="398.0" r="3.5"/>
<circle cx="1900.9" cy="398.0" r="3.5"/>
<circle cx="1916.0" cy="398.0" r="3.5"/>
<circle cx="1873.8" cy="398.0" r="2.6"/>
<circle cx="1908.7" cy="398.0" r="2.6"/>
<circle cx="1881.1" cy="373.7" r="3.5"/>
<circle cx="1901.3" cy="373.7" r="3.5"/>
<circle cx="1890.3" cy="373.7" r="2.6"/>
<circle cx="1909.6" cy="373.7" r="2.6"/>
<circle cx="1896.7" cy="359.4" r="3.5"/>
<circle cx="1888.5" cy="359.4" r="2.6"/>
<circle cx="1898.6" cy="349.3" r="3.5"/>
<circle cx="1889.4" cy="341.1" r="3.5"/>
<circle cx="1899.5" cy="341.1" r="2.6"/>
<circle cx="1886.6" cy="335.1" r="2.6"/>
<circle cx="1897.7" cy="335.1" r="2.6"/>
<circle cx="1904.1" cy="335.1" r="2.6"/>
<circle cx="1889.4" cy="320.9" r="3.5"/>
<circle cx="1905.0" cy="320.9" r="3.5"/>
<circle cx="1896.7" cy="316.7" r="2.6"/>
<circle cx="1881.6" cy="307.6" r="3.5"/>
<circle cx="1909.6" cy="307.6" r="3.5"/>
<circle cx="1874.7" cy="307.6" r="2.6"/>
<circle cx="1893.1" cy="307.6" r="2.6"/>
<circle cx="1888.5" cy="299.3" r="2.6"/>
<circle cx="1915.1" cy="299.3" r="2.6"/>
<circle cx="1901.3" cy="293.8" r="2.6"/>
<circle cx="1887.5" cy="286.4" r="3.5"/>
<circle cx="1897.2" cy="286.4" r="3.5"/>
</g>
</g>
<g id="panelB">
<text x="588.50" y="49.70" font-size="68" text-anchor="start" fill="#000" textLength="43.4" lengthAdjust="spacingAndGlyphs">B</text>
<text x="921.40" y="48.00" font-size="29.3" text-anchor="middle" fill="#000">P2RX7-WT</text>
<line x1="701.00" y1="56.50" x2="1127.00" y2="56.50" stroke="#000" stroke-width="1.6"/>
<text x="1029.60" y="87.50" font-size="25.3" text-anchor="middle" fill="#000">Magnification</text>
<text x="1388.70" y="48.30" font-size="29.5" text-anchor="middle" fill="#000">P2RX7-E496A</text>
<line x1="1166.00" y1="56.80" x2="1592.00" y2="56.80" stroke="#000" stroke-width="1.6"/>
<text x="1503.40" y="87.50" font-size="25.3" text-anchor="middle" fill="#000">Magnification</text>
<text x="681.50" y="207.00" font-size="28" text-anchor="middle" fill="#000" transform="rotate(-90 681.50 207.00)">HE</text>
<text x="681.50" y="424.30" font-size="28" text-anchor="middle" fill="#000" transform="rotate(-90 681.50 424.30)">CD8</text>
<rect x="687.00" y="97.00" width="220.40" height="226.40" fill="#fdfbfd"/>
<g clip-path="url(#cb1)">
<ellipse cx="798.3" cy="207.8" rx="100.7" ry="107.3" fill="#a060b0" filter="url(#fHE1)"/>
</g>
<rect x="1156.70" y="96.00" width="220.00" height="226.20" fill="#fbf6fb"/>
<g clip-path="url(#cb3)">
<ellipse cx="1268.8" cy="210.8" rx="102.1" ry="110.3" fill="#a060b0" filter="url(#fHE3)"/>
</g>
<rect x="687.00" y="331.70" width="220.20" height="226.20" fill="#fefefe"/>
<g clip-path="url(#cb5)">
<ellipse cx="797.3" cy="443.4" rx="103.2" ry="109.3" fill="#a060b0" filter="url(#fCD5)"/>
</g>
<rect x="1156.70" y="331.70" width="220.00" height="226.20" fill="#fefefe"/>
<g clip-path="url(#cb7)">
<ellipse cx="1264.7" cy="445.5" rx="104.9" ry="111.4" fill="#a060b0" filter="url(#fCD7)"/>
</g>
<g clip-path="url(#ce1)"><g fill="#c8323a" filter="url(#bl05)" opacity="0.75">
<ellipse cx="817.1" cy="109.4" rx="8.2" ry="3.8" transform="rotate(35 817.1 109.4)"/>
<ellipse cx="808.9" cy="103.2" rx="4.1" ry="1.9" transform="rotate(20 808.9 103.2)"/>
<ellipse cx="839.0" cy="126.5" rx="3.0" ry="1.9" transform="rotate(0 839.0 126.5)"/>
<ellipse cx="844.5" cy="137.4" rx="2.5" ry="1.6" transform="rotate(0 844.5 137.4)"/>
<ellipse cx="750.2" cy="289.7" rx="5.5" ry="1.9" transform="rotate(0 750.2 289.7)"/>
<ellipse cx="836.3" cy="297.9" rx="5.5" ry="2.5" transform="rotate(-20 836.3 297.9)"/>
<ellipse cx="864.9" cy="280.8" rx="4.1" ry="2.5" transform="rotate(-40 864.9 280.8)"/>
<ellipse cx="793.9" cy="266.5" rx="1.9" ry="3.0" transform="rotate(0 793.9 266.5)"/>
<ellipse cx="811.7" cy="259.0" rx="1.9" ry="1.9" transform="rotate(0 811.7 259.0)"/>
<ellipse cx="791.2" cy="134.7" rx="3.0" ry="1.1" transform="rotate(-30 791.2 134.7)"/>
<ellipse cx="799.4" cy="250.8" rx="1.1" ry="2.7" transform="rotate(0 799.4 250.8)"/>
<ellipse cx="714.7" cy="259.0" rx="2.2" ry="1.1" transform="rotate(0 714.7 259.0)"/>
<ellipse cx="896.4" cy="216.6" rx="1.1" ry="3.4" transform="rotate(0 896.4 216.6)"/>
<ellipse cx="773.4" cy="192.0" rx="1.1" ry="1.1" transform="rotate(0 773.4 192.0)"/>
<ellipse cx="736.5" cy="167.4" rx="0.8" ry="0.8" transform="rotate(0 736.5 167.4)"/>
</g></g>
<g clip-path="url(#ce1)"><g fill="#fff" filter="url(#bl05)" opacity="1">
<ellipse cx="860.8" cy="136.7" rx="7.5" ry="2.5" transform="rotate(5 860.8 136.7)"/>
<ellipse cx="747.4" cy="127.8" rx="1.6" ry="10.2" transform="rotate(18 747.4 127.8)"/>
<ellipse cx="755.6" cy="130.6" rx="1.4" ry="8.2" transform="rotate(20 755.6 130.6)"/>
<ellipse cx="759.1" cy="151.0" rx="1.4" ry="6.8" transform="rotate(30 759.1 151.0)"/>
<ellipse cx="848.6" cy="153.8" rx="5.5" ry="1.2" transform="rotate(-30 848.6 153.8)"/>
<ellipse cx="867.7" cy="274.0" rx="4.1" ry="2.2" transform="rotate(-30 867.7 274.0)"/>
<ellipse cx="752.9" cy="287.7" rx="2.7" ry="1.1" transform="rotate(0 752.9 287.7)"/>
<ellipse cx="796.6" cy="297.2" rx="2.2" ry="1.9" transform="rotate(0 796.6 297.2)"/>
<ellipse cx="832.2" cy="295.9" rx="1.9" ry="1.4" transform="rotate(0 832.2 295.9)"/>
<ellipse cx="814.4" cy="257.6" rx="1.4" ry="1.1" transform="rotate(0 814.4 257.6)"/>
<ellipse cx="773.4" cy="309.5" rx="1.4" ry="1.4" transform="rotate(0 773.4 309.5)"/>
<ellipse cx="791.2" cy="297.2" rx="1.1" ry="1.1" transform="rotate(0 791.2 297.2)"/>
<ellipse cx="828.1" cy="114.2" rx="5.5" ry="1.1" transform="rotate(40 828.1 114.2)"/>
<ellipse cx="725.6" cy="224.8" rx="4.1" ry="0.8" transform="rotate(10 725.6 224.8)"/>
</g></g>
<g clip-path="url(#ce3)"><g fill="#cdbfe6" filter="url(#bl05)" opacity="0.85">
<ellipse cx="1231.5" cy="143.5" rx="27.3" ry="3.6" transform="rotate(20 1231.5 143.5)"/>
<ellipse cx="1267.1" cy="137.4" rx="3.6" ry="8.2" transform="rotate(10 1267.1 137.4)"/>
<ellipse cx="1291.7" cy="133.3" rx="2.7" ry="6.8" transform="rotate(-10 1291.7 133.3)"/>
<ellipse cx="1314.9" cy="181.1" rx="5.5" ry="12.3" transform="rotate(10 1314.9 181.1)"/>
<ellipse cx="1288.9" cy="194.8" rx="4.8" ry="7.5" transform="rotate(20 1288.9 194.8)"/>
<ellipse cx="1271.8" cy="197.5" rx="4.1" ry="6.1" transform="rotate(20 1271.8 197.5)"/>
<ellipse cx="1257.5" cy="193.4" rx="3.4" ry="8.2" transform="rotate(5 1257.5 193.4)"/>
<ellipse cx="1305.3" cy="233.0" rx="4.1" ry="8.9" transform="rotate(10 1305.3 233.0)"/>
<ellipse cx="1215.1" cy="257.6" rx="4.4" ry="9.6" transform="rotate(-5 1215.1 257.6)"/>
<ellipse cx="1246.6" cy="278.1" rx="3.4" ry="7.5" transform="rotate(15 1246.6 278.1)"/>
<ellipse cx="1223.3" cy="289.0" rx="4.8" ry="6.1" transform="rotate(30 1223.3 289.0)"/>
<ellipse cx="1336.7" cy="244.0" rx="4.1" ry="4.1" transform="rotate(0 1336.7 244.0)"/>
<ellipse cx="1347.7" cy="167.4" rx="3.4" ry="8.2" transform="rotate(-20 1347.7 167.4)"/>
<ellipse cx="1281.4" cy="151.0" rx="2.7" ry="5.5" transform="rotate(20 1281.4 151.0)"/>
<ellipse cx="1202.9" cy="174.3" rx="8.2" ry="1.4" transform="rotate(50 1202.9 174.3)"/>
<ellipse cx="1344.9" cy="256.3" rx="3.4" ry="6.8" transform="rotate(20 1344.9 256.3)"/>
<ellipse cx="1231.5" cy="253.5" rx="2.7" ry="6.8" transform="rotate(10 1231.5 253.5)"/>
<ellipse cx="1316.3" cy="121.0" rx="3.4" ry="4.1" transform="rotate(0 1316.3 121.0)"/>
<ellipse cx="1299.9" cy="175.6" rx="2.7" ry="4.1" transform="rotate(0 1299.9 175.6)"/>
<ellipse cx="1283.5" cy="282.2" rx="2.7" ry="4.8" transform="rotate(0 1283.5 282.2)"/>
</g></g>
<g clip-path="url(#ce3)"><g fill="#fff" filter="url(#bl05)" opacity="1">
<ellipse cx="1297.1" cy="257.6" rx="1.9" ry="1.9" transform="rotate(0 1297.1 257.6)"/>
<ellipse cx="1263.0" cy="227.6" rx="3.4" ry="1.4" transform="rotate(30 1263.0 227.6)"/>
<ellipse cx="1332.6" cy="244.0" rx="1.6" ry="3.0" transform="rotate(0 1332.6 244.0)"/>
<ellipse cx="1198.8" cy="197.5" rx="1.1" ry="1.1" transform="rotate(0 1198.8 197.5)"/>
<ellipse cx="1234.3" cy="197.5" rx="0.8" ry="1.4" transform="rotate(0 1234.3 197.5)"/>
<ellipse cx="1202.9" cy="141.5" rx="0.8" ry="0.8" transform="rotate(0 1202.9 141.5)"/>
<ellipse cx="1317.6" cy="126.5" rx="1.1" ry="1.1" transform="rotate(0 1317.6 126.5)"/>
<ellipse cx="1273.2" cy="273.3" rx="1.1" ry="1.1" transform="rotate(0 1273.2 273.3)"/>
<ellipse cx="1342.2" cy="246.0" rx="1.1" ry="2.5" transform="rotate(0 1342.2 246.0)"/>
</g></g>
<g clip-path="url(#ce5)"><g fill="#f6f1f2" filter="url(#bl05)" opacity="0.8">
<ellipse cx="810.3" cy="375.1" rx="10.9" ry="2.2" transform="rotate(-15 810.3 375.1)"/>
<ellipse cx="847.2" cy="388.8" rx="8.2" ry="3.0" transform="rotate(-30 847.2 388.8)"/>
<ellipse cx="848.6" cy="433.9" rx="6.8" ry="5.5" transform="rotate(0 848.6 433.9)"/>
<ellipse cx="871.8" cy="462.6" rx="8.2" ry="4.1" transform="rotate(0 871.8 462.6)"/>
<ellipse cx="780.2" cy="469.4" rx="5.5" ry="5.5" transform="rotate(0 780.2 469.4)"/>
<ellipse cx="709.2" cy="405.2" rx="2.7" ry="6.8" transform="rotate(20 709.2 405.2)"/>
<ellipse cx="814.4" cy="509.0" rx="5.5" ry="8.2" transform="rotate(0 814.4 509.0)"/>
<ellipse cx="834.9" cy="402.4" rx="6.8" ry="1.9" transform="rotate(-20 834.9 402.4)"/>
<ellipse cx="796.6" cy="402.4" rx="2.5" ry="8.2" transform="rotate(20 796.6 402.4)"/>
<ellipse cx="755.6" cy="383.3" rx="3.4" ry="1.4" transform="rotate(-40 755.6 383.3)"/>
</g></g>
<g clip-path="url(#ce5)"><g fill="#cdb9b0" filter="url(#bl2)" opacity="0.45">
<ellipse cx="821.2" cy="519.9" rx="4.1" ry="4.1" transform="rotate(0 821.2 519.9)"/>
<ellipse cx="881.3" cy="438.0" rx="2.7" ry="8.2" transform="rotate(0 881.3 438.0)"/>
<ellipse cx="717.4" cy="402.4" rx="5.5" ry="10.9" transform="rotate(20 717.4 402.4)"/>
<ellipse cx="864.9" cy="372.4" rx="10.9" ry="5.5" transform="rotate(30 864.9 372.4)"/>
<ellipse cx="755.6" cy="547.3" rx="16.4" ry="5.5" transform="rotate(0 755.6 547.3)"/>
</g></g>
<g clip-path="url(#ce7)"><g fill="#bdb4dc" filter="url(#bl05)" opacity="0.7">
<ellipse cx="1181.0" cy="391.5" rx="5.5" ry="12.3" transform="rotate(10 1181.0 391.5)"/>
<ellipse cx="1260.2" cy="379.2" rx="2.7" ry="8.2" transform="rotate(10 1260.2 379.2)"/>
<ellipse cx="1288.9" cy="375.1" rx="2.7" ry="8.2" transform="rotate(10 1288.9 375.1)"/>
<ellipse cx="1271.2" cy="402.4" rx="3.4" ry="6.1" transform="rotate(20 1271.2 402.4)"/>
<ellipse cx="1235.6" cy="410.6" rx="5.5" ry="6.8" transform="rotate(20 1235.6 410.6)"/>
<ellipse cx="1310.8" cy="420.2" rx="5.5" ry="5.5" transform="rotate(0 1310.8 420.2)"/>
<ellipse cx="1238.4" cy="451.6" rx="3.4" ry="9.6" transform="rotate(-20 1238.4 451.6)"/>
<ellipse cx="1257.5" cy="451.6" rx="3.4" ry="10.9" transform="rotate(-15 1257.5 451.6)"/>
<ellipse cx="1297.1" cy="474.9" rx="2.7" ry="9.6" transform="rotate(25 1297.1 474.9)"/>
<ellipse cx="1178.3" cy="462.6" rx="9.6" ry="2.7" transform="rotate(10 1178.3 462.6)"/>
<ellipse cx="1200.1" cy="517.2" rx="5.5" ry="5.5" transform="rotate(0 1200.1 517.2)"/>
<ellipse cx="1212.4" cy="555.5" rx="5.5" ry="5.5" transform="rotate(0 1212.4 555.5)"/>
<ellipse cx="1271.2" cy="514.5" rx="3.4" ry="6.8" transform="rotate(0 1271.2 514.5)"/>
<ellipse cx="1306.7" cy="492.6" rx="4.1" ry="8.2" transform="rotate(20 1306.7 492.6)"/>
<ellipse cx="1334.0" cy="446.2" rx="5.5" ry="5.5" transform="rotate(0 1334.0 446.2)"/>
<ellipse cx="1354.5" cy="442.1" rx="2.7" ry="5.5" transform="rotate(0 1354.5 442.1)"/>
<ellipse cx="1216.5" cy="435.2" rx="4.1" ry="8.2" transform="rotate(0 1216.5 435.2)"/>
<ellipse cx="1246.6" cy="569.1" rx="5.5" ry="4.1" transform="rotate(0 1246.6 569.1)"/>
<ellipse cx="1232.9" cy="491.3" rx="2.7" ry="8.2" transform="rotate(-30 1232.9 491.3)"/>
</g></g>
<g clip-path="url(#ce7)"><g fill="#f4efe8" filter="url(#bl05)" opacity="1">
<ellipse cx="1235.6" cy="485.8" rx="1.1" ry="6.8" transform="rotate(-30 1235.6 485.8)"/>
<ellipse cx="1297.1" cy="474.9" rx="0.8" ry="6.8" transform="rotate(25 1297.1 474.9)"/>
<ellipse cx="1224.7" cy="463.9" rx="1.4" ry="4.1" transform="rotate(0 1224.7 463.9)"/>
<ellipse cx="1175.5" cy="462.6" rx="6.8" ry="1.1" transform="rotate(10 1175.5 462.6)"/>
<ellipse cx="1291.7" cy="510.4" rx="1.4" ry="2.7" transform="rotate(0 1291.7 510.4)"/>
</g></g>
<g clip-path="url(#cb2)">
<rect x="919.6" y="96" width="222.0" height="227.6" fill="#a060b0" filter="url(#fHE2)"/>
<g filter="url(#bl1)">
<path d="M992.6,204.0C989.1,206.4 975.1,212.1 971.2,217.9C967.4,223.7 968.2,231.4 969.5,238.7C970.9,246.1 974.4,256.2 979.3,261.8C984.2,267.5 991.5,269.8 999.0,272.8C1006.5,275.8 1020.2,278.6 1024.4,279.8" fill="none" stroke="#fff" stroke-width="11" stroke-linecap="round" stroke-linejoin="round"/>
<path d="M995.5,204.0C997.6,205.2 1003.8,206.4 1008.2,211.0C1012.7,215.6 1017.7,223.3 1022.1,231.8C1026.5,240.3 1032.7,256.8 1034.8,261.8" fill="none" stroke="#fff" stroke-width="4.5" stroke-linecap="round" stroke-linejoin="round"/>
<path d="M931.9,192.5C936.6,187.1 951.6,169.6 959.7,160.1C967.8,150.7 972.8,142.1 980.5,135.8C988.2,129.6 998.6,127.4 1005.9,122.5C1013.2,117.7 1021.3,109.5 1024.4,106.9" fill="none" stroke="#fff" stroke-width="8.5" stroke-linecap="round" stroke-linejoin="round"/>
<path d="M1000.1,155.5C1002.6,150.9 1010.4,136.0 1015.2,127.7C1020.0,119.5 1026.7,109.4 1029.0,105.8" fill="none" stroke="#fff" stroke-width="6.5" stroke-linecap="round" stroke-linejoin="round"/>
<path d="M1075.3,106.9C1076.0,110.0 1079.5,118.9 1079.3,125.4C1079.1,132.0 1076.5,141.2 1074.1,146.2C1071.7,151.3 1066.8,149.7 1064.9,155.5C1063.0,161.3 1061.8,172.8 1062.6,180.9C1063.3,189.0 1067.2,197.3 1069.5,204.0C1071.8,210.8 1073.2,216.8 1076.4,221.4C1079.7,226.0 1087.0,230.1 1089.2,231.8" fill="none" stroke="#fff" stroke-width="8" stroke-linecap="round" stroke-linejoin="round"/>
<path d="M1049.9,117.3C1049.5,119.5 1047.9,127.9 1047.5,130.1" fill="none" stroke="#fff" stroke-width="3" stroke-linecap="round" stroke-linejoin="round"/>
<path d="M1054.5,192.5C1054.9,193.3 1056.4,196.3 1056.8,197.1" fill="none" stroke="#fff" stroke-width="4" stroke-linecap="round" stroke-linejoin="round"/>
<g fill="#fff">
<ellipse cx="1064.9" cy="264.2" rx="8.7" ry="8.1"/>
<ellipse cx="936.6" cy="285.0" rx="5.2" ry="5.8"/>
<ellipse cx="1112.3" cy="308.1" rx="6.4" ry="6.9"/>
<ellipse cx="1098.4" cy="313.9" rx="4.6" ry="3.5"/>
<ellipse cx="1105.3" cy="267.6" rx="4.6" ry="2.9"/>
<ellipse cx="1019.8" cy="246.8" rx="3.2" ry="3.2"/>
<ellipse cx="997.8" cy="251.4" rx="2.9" ry="2.9"/>
<ellipse cx="1105.3" cy="201.7" rx="2.9" ry="2.9"/>
<ellipse cx="1121.5" cy="204.0" rx="2.9" ry="3.5"/>
<ellipse cx="942.3" cy="237.6" rx="2.5" ry="3.0"/>
<ellipse cx="929.6" cy="241.0" rx="2.1" ry="2.5"/>
<ellipse cx="1073.0" cy="294.2" rx="3.5" ry="3.5"/>
<ellipse cx="934.2" cy="204.0" rx="4.6" ry="1.6"/>
<ellipse cx="959.7" cy="295.4" rx="6.9" ry="1.4"/>
<ellipse cx="1127.3" cy="303.5" rx="3.5" ry="3.5"/>
<ellipse cx="943.5" cy="155.5" rx="4.6" ry="1.6"/>
<ellipse cx="1096.1" cy="252.6" rx="1.4" ry="4.6"/>
</g>
<ellipse cx="1066.6" cy="261.8" rx="3.2" ry="3.6" fill="#9a62b4"/>
</g>
<g fill="#d43a3a" filter="url(#bl05)">
<ellipse cx="960.8" cy="106.4" rx="9.8" ry="5.8"/>
<ellipse cx="952.7" cy="102.3" rx="4.6" ry="2.9"/>
<ellipse cx="1107.7" cy="135.8" rx="2.1" ry="4.0"/>
<ellipse cx="1115.8" cy="244.5" rx="4.6" ry="1.4"/>
<ellipse cx="1128.5" cy="243.4" rx="2.3" ry="1.4"/>
<ellipse cx="985.1" cy="316.2" rx="2.9" ry="1.7"/>
<ellipse cx="933.1" cy="296.5" rx="1.7" ry="2.1"/>
<ellipse cx="1135.4" cy="296.5" rx="2.1" ry="2.9"/>
<ellipse cx="1120.4" cy="273.4" rx="1.2" ry="2.3"/>
</g>
</g>
<g clip-path="url(#cb4)">
<rect x="1389.2" y="95" width="221.8" height="228.3" fill="#a060b0" filter="url(#fHE4)"/>
<g fill="#fff" filter="url(#bl1)">
<ellipse cx="1412.2" cy="112.7" rx="15.8" ry="10.1" transform="rotate(-25 1412.2 112.7)"/>
<ellipse cx="1407.7" cy="187.1" rx="9.5" ry="7.6" transform="rotate(-30 1407.7 187.1)"/>
<ellipse cx="1566.7" cy="263.4" rx="15.1" ry="21.4" transform="rotate(10 1566.7 263.4)"/>
<ellipse cx="1545.2" cy="272.9" rx="3.5" ry="3.5" transform="rotate(0 1545.2 272.9)"/>
<ellipse cx="1571.7" cy="183.3" rx="7.6" ry="6.9" transform="rotate(0 1571.7 183.3)"/>
<ellipse cx="1459.5" cy="206.0" rx="4.0" ry="4.0" transform="rotate(0 1459.5 206.0)"/>
<ellipse cx="1467.0" cy="218.6" rx="5.3" ry="6.1" transform="rotate(0 1467.0 218.6)"/>
<ellipse cx="1480.9" cy="221.8" rx="5.0" ry="5.7" transform="rotate(0 1480.9 221.8)"/>
<ellipse cx="1501.1" cy="296.8" rx="6.3" ry="6.9" transform="rotate(0 1501.1 296.8)"/>
<ellipse cx="1607.0" cy="279.2" rx="5.0" ry="16.4" transform="rotate(0 1607.0 279.2)"/>
<ellipse cx="1392.6" cy="165.7" rx="2.5" ry="7.6" transform="rotate(0 1392.6 165.7)"/>
<ellipse cx="1391.4" cy="137.9" rx="1.9" ry="5.0" transform="rotate(0 1391.4 137.9)"/>
<ellipse cx="1578.0" cy="139.8" rx="3.8" ry="3.8" transform="rotate(0 1578.0 139.8)"/>
<ellipse cx="1549.0" cy="173.2" rx="4.4" ry="3.8" transform="rotate(0 1549.0 173.2)"/>
<ellipse cx="1542.7" cy="193.4" rx="3.2" ry="3.2" transform="rotate(0 1542.7 193.4)"/>
<ellipse cx="1411.5" cy="236.3" rx="2.3" ry="2.3" transform="rotate(0 1411.5 236.3)"/>
<ellipse cx="1395.1" cy="203.5" rx="1.9" ry="5.0" transform="rotate(0 1395.1 203.5)"/>
<path d="M1450.0,223.7 L1455.7,228.7 1460.7,254.0 1467.0,279.2 1470.8,323.3 1464.5,323.3 1460.7,291.8 1455.7,266.6 1451.9,247.6Z"/>
<path d="M1531.3,217.4 L1554.0,206.0 1561.6,214.9 1547.7,227.5 1537.6,231.3 1530.1,226.2Z"/>
<path d="M1499.8,323.3 L1506.1,308.2 1517.5,298.1 1522.5,306.9 1523.8,323.3Z"/>
<path d="M1491.0,146.8 L1497.3,153.1 1499.8,190.9 1496.0,190.9 1493.5,165.7Z"/>
<path d="M1512.4,228.7 L1518.7,235.0 1523.8,266.6 1520.0,266.6Z"/>
</g>
<g fill="#8a60b8" opacity="0.7" filter="url(#bl05)">
<ellipse cx="1410.3" cy="112.7" rx="6.3" ry="3.8"/>
<ellipse cx="1566.7" cy="264.0" rx="5.0" ry="13.9"/>
<ellipse cx="1545.2" cy="217.4" rx="8.8" ry="6.3"/>
<ellipse cx="1407.1" cy="187.1" rx="5.0" ry="3.2"/>
</g>
</g>
<g clip-path="url(#cb6)">
<rect x="920.6" y="330.7" width="221.4" height="225.9" fill="#a060b0" filter="url(#fCD6)"/>
<g fill="#fefcfa" filter="url(#bl2)">
<path d="M1073.9,390.6 C1091.6,384.3 1106.7,400.7 1106.7,432.2 C1106.7,463.7 1091.6,495.3 1060.1,511.7 C1034.8,521.8 997.0,521.8 974.3,492.8 C970.5,486.5 974.3,483.9 980.6,487.7 C1003.3,499.1 1028.5,489.0 1047.4,470.1 C1063.8,451.1 1066.4,419.6 1068.9,398.2Z"/>
<ellipse cx="1010.9" cy="366.6" rx="7.6" ry="6.3"/>
<ellipse cx="1033.6" cy="375.5" rx="6.3" ry="5.0"/>
<ellipse cx="974.3" cy="384.3" rx="6.3" ry="5.0"/>
<ellipse cx="1134.5" cy="361.6" rx="5.0" ry="5.7"/>
<ellipse cx="935.2" cy="533.1" rx="10.1" ry="7.6"/>
<ellipse cx="993.2" cy="425.9" rx="5.0" ry="3.8"/>
<ellipse cx="1111.8" cy="415.8" rx="2.5" ry="3.2"/>
</g>
<g fill="#a0622c" stroke="#6e3810" stroke-width="1.8" filter="url(#bl05)">
<circle cx="969.2" cy="354.0" r="3.2"/>
<circle cx="1039.9" cy="347.7" r="3.2"/>
<circle cx="1096.6" cy="341.4" r="3.2"/>
<circle cx="1094.1" cy="351.5" r="3.2"/>
<circle cx="1024.7" cy="365.4" r="3.2"/>
<circle cx="1018.4" cy="369.1" r="3.2"/>
<circle cx="970.5" cy="372.9" r="3.2"/>
<circle cx="973.0" cy="380.5" r="3.2"/>
<circle cx="956.6" cy="383.0" r="3.2"/>
<circle cx="985.6" cy="389.3" r="3.2"/>
<circle cx="940.2" cy="398.2" r="3.2"/>
<circle cx="933.9" cy="407.0" r="3.2"/>
<circle cx="931.4" cy="415.8" r="3.2"/>
<circle cx="925.1" cy="415.8" r="3.2"/>
<circle cx="1037.4" cy="399.4" r="3.2"/>
<circle cx="1039.9" cy="408.2" r="3.2"/>
<circle cx="1137.0" cy="400.7" r="3.2"/>
<circle cx="998.2" cy="422.1" r="3.2"/>
<circle cx="1052.5" cy="429.7" r="3.2"/>
<circle cx="1021.0" cy="433.5" r="3.2"/>
<circle cx="1053.7" cy="441.0" r="3.2"/>
<circle cx="1009.6" cy="444.8" r="3.2"/>
<circle cx="970.5" cy="451.1" r="3.2"/>
<circle cx="975.5" cy="454.9" r="3.2"/>
<circle cx="985.6" cy="447.4" r="3.2"/>
<circle cx="995.7" cy="462.5" r="3.2"/>
<circle cx="1008.3" cy="460.6" r="3.2"/>
<circle cx="1027.3" cy="462.5" r="3.2"/>
<circle cx="1009.6" cy="470.1" r="3.2"/>
<circle cx="980.6" cy="475.1" r="3.2"/>
<circle cx="1124.4" cy="456.2" r="3.2"/>
<circle cx="1105.5" cy="489.0" r="3.2"/>
<circle cx="1110.5" cy="501.6" r="3.2"/>
<circle cx="950.3" cy="512.9" r="3.2"/>
<circle cx="1063.8" cy="524.3" r="3.2"/>
<circle cx="1056.3" cy="534.4" r="3.2"/>
<circle cx="1100.4" cy="529.3" r="3.2"/>
<circle cx="1132.0" cy="521.8" r="3.2"/>
<circle cx="1086.5" cy="549.5" r="3.2"/>
<circle cx="1104.2" cy="550.8" r="3.2"/>
</g>
</g>
<g clip-path="url(#cb8)">
<rect x="1389.6" y="329.6" width="222.4" height="227.0" fill="#a060b0" filter="url(#fCD8)"/>
<g fill="#fdfcfd" filter="url(#bl2)">
<ellipse cx="1591.9" cy="374.2" rx="8.8" ry="10.1"/>
<ellipse cx="1520.0" cy="345.2" rx="5.7" ry="6.3"/>
<ellipse cx="1487.2" cy="343.9" rx="5.7" ry="5.0"/>
<ellipse cx="1576.7" cy="340.1" rx="5.0" ry="4.4"/>
<ellipse cx="1586.8" cy="536.9" rx="10.1" ry="11.4"/>
<ellipse cx="1472.1" cy="536.9" rx="7.6" ry="5.0"/>
<ellipse cx="1441.8" cy="369.1" rx="3.8" ry="5.0"/>
<ellipse cx="1459.5" cy="380.5" rx="3.8" ry="3.8"/>
<ellipse cx="1575.5" cy="419.6" rx="5.0" ry="10.1"/>
<ellipse cx="1506.1" cy="388.1" rx="5.0" ry="5.0"/>
<ellipse cx="1585.6" cy="442.3" rx="5.0" ry="5.0"/>
<ellipse cx="1419.1" cy="337.6" rx="5.0" ry="5.0"/>
<ellipse cx="1604.5" cy="486.4" rx="3.8" ry="7.6"/>
<ellipse cx="1440.5" cy="461.2" rx="4.4" ry="4.4"/>
<ellipse cx="1470.8" cy="432.2" rx="3.8" ry="5.0"/>
</g>
<g fill="#6a3a1a">
<ellipse cx="1510.5" cy="483.9" rx="1.3" ry="2.8"/>
<ellipse cx="1530.7" cy="475.1" rx="1.3" ry="1.3"/>
<ellipse cx="1450.0" cy="376.7" rx="1.0" ry="2.5"/>
<ellipse cx="1393.9" cy="528.1" rx="1.0" ry="2.3"/>
</g>
</g>
<rect x="687.10" y="97.10" width="220.20" height="226.20" fill="none" stroke="#000" stroke-width="2.2"/>
<rect x="1156.80" y="96.10" width="219.80" height="226.00" fill="none" stroke="#000" stroke-width="2.2"/>
<rect x="687.10" y="331.80" width="220.00" height="226.00" fill="none" stroke="#000" stroke-width="2.2"/>
<rect x="1156.80" y="331.80" width="219.80" height="226.00" fill="none" stroke="#000" stroke-width="2.2"/>
<rect x="920.90" y="97.30" width="219.40" height="225.00" fill="none" stroke="#000" stroke-width="2.6"/>
<rect x="1390.50" y="96.30" width="219.20" height="225.70" fill="none" stroke="#000" stroke-width="2.6"/>
<rect x="921.90" y="332.00" width="218.80" height="223.30" fill="none" stroke="#000" stroke-width="2.6"/>
<rect x="1390.90" y="330.90" width="219.80" height="224.40" fill="none" stroke="#000" stroke-width="2.6"/>
<rect x="705.40" y="170.50" width="30.10" height="30.80" fill="none" stroke="#000" stroke-width="2.2"/>
<line x1="736.50" y1="169.50" x2="919.60" y2="97.00" stroke="#000" stroke-width="2.1" stroke-dasharray="2.1 3.4"/>
<line x1="736.50" y1="202.30" x2="919.60" y2="322.60" stroke="#000" stroke-width="2.1" stroke-dasharray="2.1 3.4"/>
<rect x="1221.30" y="191.00" width="29.70" height="30.80" fill="none" stroke="#000" stroke-width="2.2"/>
<line x1="1252.00" y1="190.00" x2="1389.20" y2="96.00" stroke="#000" stroke-width="2.1" stroke-dasharray="2.1 3.4"/>
<line x1="1252.00" y1="222.80" x2="1389.20" y2="322.30" stroke="#000" stroke-width="2.1" stroke-dasharray="2.1 3.4"/>
<rect x="735.90" y="372.00" width="30.40" height="30.80" fill="none" stroke="#000" stroke-width="2.2"/>
<line x1="767.30" y1="371.00" x2="920.60" y2="331.70" stroke="#000" stroke-width="2.1" stroke-dasharray="2.1 3.4"/>
<line x1="767.30" y1="403.80" x2="920.60" y2="555.60" stroke="#000" stroke-width="2.1" stroke-dasharray="2.1 3.4"/>
<rect x="1215.50" y="369.00" width="30.30" height="30.80" fill="none" stroke="#000" stroke-width="2.2"/>
<line x1="1246.80" y1="368.00" x2="1389.60" y2="330.60" stroke="#000" stroke-width="2.1" stroke-dasharray="2.1 3.4"/>
<line x1="1246.80" y1="400.80" x2="1389.60" y2="555.60" stroke="#000" stroke-width="2.1" stroke-dasharray="2.1 3.4"/>
</g>
<g id="panelF">
<text x="203.00" y="1221.00" font-size="68" text-anchor="start" fill="#000" textLength="38.6" lengthAdjust="spacingAndGlyphs">F</text>
<rect x="283.50" y="1177.20" width="1339.50" height="736.00" fill="url(#gBg)" stroke="#1a1a1a" stroke-width="1.5"/>
<ellipse cx="741" cy="1729" rx="262" ry="130" fill="url(#gCell)" stroke="#000" stroke-width="2"/>
<ellipse cx="748" cy="1787" rx="127" ry="62" fill="url(#gNuc)" stroke="#000" stroke-width="2" transform="rotate(-2 748 1787)"/>
<text x="321.00" y="1378.60" font-size="26.8" text-anchor="start" fill="#000" textLength="164.0" lengthAdjust="spacingAndGlyphs">Immunogenic</text>
<text x="321.50" y="1410.00" font-size="26.8" text-anchor="start" fill="#000" textLength="171.0" lengthAdjust="spacingAndGlyphs">chemotherapy</text>
<text x="477.60" y="1504.60" font-size="22.3" text-anchor="start" fill="#000" textLength="57.5" lengthAdjust="spacingAndGlyphs">TNF<tspan font-family="'DejaVu Sans', sans-serif" font-size="19.5">α</tspan></text>
<text x="496.50" y="1609.20" font-size="22.3" text-anchor="start" fill="#000" textLength="69.5" lengthAdjust="spacingAndGlyphs">TNFR1</text>
<text x="676.80" y="1549.20" font-size="22.3" text-anchor="start" fill="#000" textLength="70.5" lengthAdjust="spacingAndGlyphs">PANX1</text>
<text x="735.30" y="1513.40" font-size="22.3" text-anchor="start" fill="#000" textLength="40.5" lengthAdjust="spacingAndGlyphs">ATP</text>
<text x="817.20" y="1700.40" font-size="22.3" text-anchor="start" fill="#000" textLength="40.5" lengthAdjust="spacingAndGlyphs">ATP</text>
<text x="860.80" y="1519.40" font-size="26" text-anchor="start" fill="#000" textLength="85.0" lengthAdjust="spacingAndGlyphs">P2RX7</text>
<text x="880.20" y="1605.20" font-size="25.8" text-anchor="start" fill="#000" textLength="92.0" lengthAdjust="spacingAndGlyphs">tPANX1</text>
<text x="650.80" y="1380.70" font-size="22.3" text-anchor="start" fill="#444" textLength="125.0" lengthAdjust="spacingAndGlyphs">P2RX7-SNP</text>
<text x="550.20" y="1721.60" font-size="22.3" text-anchor="start" fill="#f26a1e" textLength="127.0" lengthAdjust="spacingAndGlyphs">Caspase-8/3</text>
<text x="842.00" y="1232.50" font-size="25.5" text-anchor="start" fill="#b374d4" font-weight="bold" textLength="199.0" lengthAdjust="spacingAndGlyphs">Dendritic cells</text>
<text x="1064.80" y="1390.80" font-size="26.7" text-anchor="start" fill="#000" textLength="206.0" lengthAdjust="spacingAndGlyphs">T cell inactivation</text>
<text x="1063.20" y="1798.40" font-size="31" text-anchor="start" fill="#ff8460" font-weight="bold" textLength="235.0" lengthAdjust="spacingAndGlyphs">T cell activation</text>
<text x="1356.80" y="1841.00" font-size="22.6" text-anchor="start" fill="#1f4fa0" font-weight="bold" textLength="220.0" lengthAdjust="spacingAndGlyphs">Residual tumor cells</text>
<text x="1318.60" y="1612.40" font-size="29.6" text-anchor="start" fill="#000">IFN<tspan font-family="'Liberation Serif', serif" font-size="29">γ</tspan></text>
<text x="679.50" y="1891.60" font-size="30.7" text-anchor="start" fill="#000" textLength="159.5" lengthAdjust="spacingAndGlyphs">Tumor cells</text>
<path d="M505.2,1385.6 C530,1391 552,1404 561.5,1428 L559,1429.5 C549,1407 529,1393.5 505.2,1386.4Z" fill="#000" stroke="#000" stroke-width="0.8"/>
<path d="M565.6,1444.5 L552.9,1424.4 L562.8,1428.9 L570.6,1421.3Z" fill="#000"/>
<circle cx="550.40" cy="1497.60" r="6.10" fill="url(#gGreen)" stroke="#0e3514" stroke-width="2.3"/>
<circle cx="570.90" cy="1488.10" r="6.10" fill="url(#gGreen)" stroke="#0e3514" stroke-width="2.3"/>
<circle cx="597.50" cy="1484.40" r="6.10" fill="url(#gGreen)" stroke="#0e3514" stroke-width="2.3"/>
<circle cx="568.70" cy="1514.00" r="6.10" fill="url(#gGreen)" stroke="#0e3514" stroke-width="2.3"/>
<circle cx="598.80" cy="1506.80" r="6.10" fill="url(#gGreen)" stroke="#0e3514" stroke-width="2.3"/>
<circle cx="586.00" cy="1537.10" r="6.10" fill="url(#gGreen)" stroke="#0e3514" stroke-width="2.3"/>
<circle cx="612.00" cy="1553.00" r="6.10" fill="url(#gGreen)" stroke="#0e3514" stroke-width="2.3"/>
<g transform="translate(586.1 1588.2) rotate(-8.5)">
<path d="M-7.6,6 L-7.6,58.5 Q-7.6,61.5 -4.6,61.5 L4.6,61.5 Q7.6,61.5 7.6,58.5 L7.6,6Z" fill="#0f6a1e" stroke="#000" stroke-width="1.3"/>
</g>
<g transform="translate(586.1 1588.2)">
<path d="M-5.6,-12.6 A14.6,14.6 0 1 0 7.2,-12 L6.6,-9.4 A6.4,6.4 0 0 1 -5.2,-9.8Z" fill="url(#gGrH)" stroke="#000" stroke-width="1.3" stroke-linejoin="round"/>
</g>
<g transform="translate(618.2 1581.9) rotate(-8.9)">
<path d="M-7.6,6 L-7.6,57.8 Q-7.6,60.8 -4.6,60.8 L4.6,60.8 Q7.6,60.8 7.6,57.8 L7.6,6Z" fill="#0f6a1e" stroke="#000" stroke-width="1.3"/>
</g>
<g transform="translate(618.2 1581.9)">
<path d="M-5.6,-12.6 A14.6,14.6 0 1 0 7.2,-12 L6.6,-9.4 A6.4,6.4 0 0 1 -5.2,-9.8Z" fill="url(#gGrH)" stroke="#000" stroke-width="1.3" stroke-linejoin="round"/>
</g>
<line x1="618.70" y1="1655.40" x2="629.50" y2="1690.00" stroke="#000" stroke-width="2"/>
<path d="M632.8,1700.5 L620.3,1686.6 L629.0,1688.3 L635.1,1682.0Z" fill="#000"/>
<path d="M689,1714.3 C702,1710 712,1698 717,1685" fill="none" stroke="#000" stroke-width="1"/>
<path d="M718.6,1680.6 L718.2,1689.0 L716.2,1686.5 L713.1,1687.0Z" fill="#000"/>
<g fill="none" stroke="#000" stroke-width="1.4">
<path d="M685.9,1576 C685.5,1556 701,1552 702.7,1576"/>
<path d="M719.5,1576 C719,1556 734,1552 735.3,1576"/>
<path d="M702.7,1622 C702.5,1631 711,1633 719.5,1622"/>
<path d="M685.9,1622 C686,1631 676,1630 668,1624"/>
<path d="M719.5,1622 C720,1632 712,1632 703,1626"/>
<path d="M735.3,1622 C737,1630 740,1636 744,1641"/>
<path d="M746,1645 C750,1646 754,1648 756,1654"/>
</g>
<rect x="680.2" y="1573.5" width="11.4" height="50.5" rx="5.7" fill="#cbc1c2" stroke="#000" stroke-width="1.4"/>
<rect x="697.0" y="1573.5" width="11.4" height="50.5" rx="5.7" fill="#cbc1c2" stroke="#000" stroke-width="1.4"/>
<rect x="713.8" y="1573.5" width="11.4" height="50.5" rx="5.7" fill="#cbc1c2" stroke="#000" stroke-width="1.4"/>
<rect x="729.6" y="1573.5" width="11.4" height="50.5" rx="5.7" fill="#cbc1c2" stroke="#000" stroke-width="1.4"/>
<circle cx="744.30" cy="1643.30" r="3.60" fill="#c9c0c0" stroke="#000" stroke-width="1.2"/>
<path d="M731.8,1661.5 L743.8,1664.0 A14.6,14.6 0 1 1 737.0,1649.6Z" fill="#f5512c" stroke="#000" stroke-width="1.4" stroke-linejoin="round"/>
<g fill="none" stroke="#000" stroke-width="1.4">
<path d="M784,1580 C783.5,1558 799,1554 800.8,1580"/>
<path d="M817.6,1580 C817,1558 833,1554 834.4,1580"/>
<path d="M809.2,1586 C809,1566 824,1562 824.9,1586"/>
<path d="M841.7,1586 C841,1568 858,1564 859.6,1590"/>
<path d="M784,1624 C784,1632 775,1631 766,1625"/>
<path d="M809,1634 C808,1642 799,1641 790,1635"/>
<path d="M841,1634 C842,1644 836,1642 828,1636"/>
<path d="M859.6,1634 C859,1639 860,1642 862,1644"/>
</g>
<rect x="803.5" y="1585.2" width="11.4" height="50.5" rx="5.7" fill="url(#gOr)" stroke="#000" stroke-width="1.4"/>
<rect x="819.2" y="1585.2" width="11.4" height="50.5" rx="5.7" fill="url(#gOr)" stroke="#000" stroke-width="1.4"/>
<rect x="836.0" y="1585.2" width="11.4" height="50.5" rx="5.7" fill="url(#gOr)" stroke="#000" stroke-width="1.4"/>
<rect x="853.9" y="1585.2" width="11.4" height="49.6" rx="5.7" fill="url(#gOr)" stroke="#000" stroke-width="1.4"/>
<rect x="778.3" y="1576.8" width="11.4" height="48.4" rx="5.7" fill="url(#gOr)" stroke="#000" stroke-width="1.4"/>
<rect x="795.1" y="1576.8" width="11.4" height="48.4" rx="5.7" fill="url(#gOr)" stroke="#000" stroke-width="1.4"/>
<rect x="811.9" y="1576.8" width="11.4" height="48.4" rx="5.7" fill="url(#gOr)" stroke="#000" stroke-width="1.4"/>
<rect x="828.7" y="1576.8" width="11.4" height="48.4" rx="5.7" fill="url(#gOr)" stroke="#000" stroke-width="1.4"/>
<path d="M807.5,1687 C815,1668 819.5,1640 819.5,1612" fill="none" stroke="#555" stroke-width="0.8"/>
<path d="M819.5,1612 C819.5,1585 817.5,1560 813.5,1538" fill="none" stroke="#000" stroke-width="1.7"/>
<path d="M810.8,1526.4 L820.3,1539.7 L813.0,1536.7 L807.6,1542.4Z" fill="#000"/>
<g transform="translate(795.3 1505.6) rotate(-25)" fill="url(#gAtp)" stroke="#140806" stroke-width="1.7" stroke-linejoin="round">
<polygon points="2.2,3.7 -1.9,8.4 -8.0,7.1 -10.0,1.3 -5.9,-3.4 0.2,-2.1"/>
<polygon points="9.3,-0.4 3.6,2.3 -0.8,-2.3 2.3,-7.9 8.5,-6.7"/>
</g>
<g transform="translate(815.6 1511.6) rotate(-25)" fill="url(#gAtp)" stroke="#140806" stroke-width="1.7" stroke-linejoin="round">
<polygon points="2.2,3.7 -1.9,8.4 -8.0,7.1 -10.0,1.3 -5.9,-3.4 0.2,-2.1"/>
<polygon points="9.3,-0.4 3.6,2.3 -0.8,-2.3 2.3,-7.9 8.5,-6.7"/>
</g>
<g transform="translate(791.4 1688.6) rotate(-25)" fill="url(#gAtp)" stroke="#140806" stroke-width="1.7" stroke-linejoin="round">
<polygon points="2.2,3.7 -1.9,8.4 -8.0,7.1 -10.0,1.3 -5.9,-3.4 0.2,-2.1"/>
<polygon points="9.3,-0.4 3.6,2.3 -0.8,-2.3 2.3,-7.9 8.5,-6.7"/>
</g>
<g transform="translate(805.2 1707.4) rotate(-25)" fill="url(#gAtp)" stroke="#140806" stroke-width="1.7" stroke-linejoin="round">
<polygon points="2.2,3.7 -1.9,8.4 -8.0,7.1 -10.0,1.3 -5.9,-3.4 0.2,-2.1"/>
<polygon points="9.3,-0.4 3.6,2.3 -0.8,-2.3 2.3,-7.9 8.5,-6.7"/>
</g>
<path d="M787.3,1493 C778,1472 773,1448 773.5,1428" fill="none" stroke="#3c3c3c" stroke-width="2"/>
<path d="M777.8,1410.8 L781.9,1433.9 L775.1,1426.0 L766.1,1431.1Z" fill="#3c3c3c"/>
<path d="M803.8,1492.5 C806,1470 816,1458 834,1454.5" fill="none" stroke="#f4522d" stroke-width="1.6"/>
<path d="M851.0,1453.2 L829.0,1460.7 L835.6,1453.2 L829.0,1445.7Z" fill="#f4522d"/>
<path d="M864.9,1244.5C866.1,1244.2 868.5,1243.6 871.0,1245.3C873.6,1247.0 876.6,1250.1 880.2,1254.5C883.8,1258.9 888.3,1265.4 892.5,1271.3C896.6,1277.2 900.6,1284.6 904.7,1289.7C908.8,1294.8 912.8,1299.1 916.9,1301.9C921.1,1304.8 926.6,1307.3 929.2,1306.5C931.8,1305.8 932.9,1301.5 932.3,1297.4C931.6,1293.2 926.1,1284.7 925.4,1282.0C924.6,1279.3 925.7,1279.2 927.7,1281.3C929.6,1283.3 934.5,1290.6 936.8,1294.3C939.2,1298.0 940.4,1304.5 941.4,1303.5C942.5,1302.4 941.4,1293.8 943.0,1288.2C944.5,1282.5 947.5,1275.3 950.6,1269.8C953.7,1264.3 958.6,1258.1 961.3,1255.3C964.0,1252.4 965.4,1252.7 966.7,1253.0C968.0,1253.2 969.9,1253.2 969.0,1256.8C968.1,1260.4 963.3,1268.1 961.3,1274.4C959.4,1280.7 957.5,1288.4 957.5,1294.3C957.5,1300.2 959.4,1305.6 961.3,1309.6C963.3,1313.6 965.9,1318.8 969.0,1318.0C972.1,1317.2 976.9,1309.2 979.7,1305.0C982.5,1300.8 984.3,1294.9 985.8,1292.8C987.4,1290.6 988.2,1291.2 988.9,1292.0C989.6,1292.8 990.2,1294.1 990.1,1297.4C990.0,1300.6 988.3,1307.7 988.1,1311.1C987.9,1314.6 986.2,1319.3 988.9,1318.0C991.6,1316.7 999.6,1308.7 1004.2,1303.5C1008.8,1298.2 1013.6,1290.8 1016.4,1286.6C1019.3,1282.5 1019.7,1280.3 1021.0,1279.0C1022.3,1277.6 1023.5,1277.9 1024.1,1278.7C1024.7,1279.4 1025.0,1279.9 1024.4,1283.6C1023.8,1287.2 1022.9,1294.0 1020.3,1300.4C1017.6,1306.8 1012.3,1316.2 1008.8,1321.8C1005.3,1327.5 1001.8,1330.1 999.6,1334.1C997.4,1338.1 993.5,1344.2 995.8,1345.6C998.1,1347.0 1008.1,1342.9 1013.4,1342.5C1018.7,1342.1 1024.5,1342.7 1027.2,1343.3C1029.8,1343.9 1029.2,1345.1 1029.0,1346.0C1028.7,1346.9 1028.5,1347.5 1025.6,1348.6C1022.7,1349.7 1016.3,1350.4 1011.8,1352.5C1007.3,1354.5 998.3,1358.4 998.8,1360.9C999.4,1363.3 1008.4,1367.0 1014.9,1367.0C1021.5,1367.0 1031.7,1363.0 1037.9,1360.9C1044.0,1358.7 1048.9,1355.1 1051.6,1354.3C1054.4,1353.4 1054.4,1354.6 1054.4,1355.8C1054.4,1357.1 1054.2,1359.0 1051.6,1361.6C1049.1,1364.3 1045.1,1368.2 1039.4,1371.6C1033.7,1374.9 1023.9,1379.4 1018.0,1381.5C1012.1,1383.7 1007.9,1382.4 1004.2,1384.6C1000.5,1386.8 995.5,1392.0 995.8,1394.5C996.0,1397.1 1002.5,1398.3 1005.7,1399.9C1008.9,1401.5 1013.1,1403.1 1014.9,1404.2C1016.8,1405.3 1016.7,1405.6 1016.7,1406.3C1016.7,1407.0 1016.8,1407.9 1014.9,1408.3C1013.1,1408.7 1008.3,1408.1 1005.7,1408.8C1003.2,1409.4 998.1,1409.8 999.6,1412.2C1001.1,1414.5 1009.3,1419.8 1014.9,1422.9C1020.6,1426.0 1028.4,1428.8 1033.3,1430.5C1038.2,1432.3 1041.9,1432.4 1044.0,1433.3C1046.1,1434.2 1045.8,1435.1 1045.5,1435.9C1045.3,1436.6 1045.0,1437.3 1042.5,1437.9C1039.9,1438.5 1035.9,1439.9 1030.2,1439.4C1024.6,1438.9 1016.5,1437.1 1008.8,1435.1C1001.1,1433.2 990.0,1429.1 984.3,1427.8C978.6,1426.5 976.1,1424.7 975.1,1427.5C974.1,1430.2 977.2,1437.4 978.5,1444.3C979.8,1451.2 982.5,1461.1 982.8,1468.8C983.0,1476.5 981.0,1486.0 980.0,1490.2C979.0,1494.5 977.7,1493.9 976.6,1494.0C975.6,1494.2 975.1,1495.2 973.6,1491.0C972.0,1486.7 970.8,1476.1 967.5,1468.8C964.1,1461.5 957.8,1452.2 953.7,1447.4C949.6,1442.5 946.0,1440.7 943.0,1439.7C939.9,1438.7 937.4,1438.4 935.6,1441.2C933.9,1444.1 934.4,1450.9 932.6,1456.5C930.8,1462.2 926.8,1469.6 924.9,1474.9C923.0,1480.3 922.3,1485.9 921.2,1488.4C920.2,1490.8 919.5,1489.7 918.8,1489.5C918.1,1489.2 917.0,1490.1 916.9,1487.2C916.8,1484.2 917.1,1477.8 918.2,1471.8C919.2,1465.9 922.5,1456.8 923.1,1452.0C923.7,1447.1 923.6,1441.8 921.8,1443.1C920.0,1444.4 915.4,1453.4 912.4,1459.6C909.3,1465.9 905.9,1476.5 903.9,1480.3C902.0,1484.0 901.8,1482.1 900.9,1481.8C900.0,1481.5 899.2,1482.5 898.6,1478.7C897.9,1475.0 897.6,1466.9 897.0,1459.6C896.5,1452.3 900.4,1439.2 895.5,1435.1C890.6,1431.0 877.5,1434.9 868.0,1435.4C858.4,1436.0 847.1,1438.1 838.9,1438.5C830.7,1438.9 822.8,1438.4 819.0,1437.9C815.1,1437.4 816.0,1436.3 815.9,1435.4C815.8,1434.6 814.4,1434.2 818.2,1432.8C822.1,1431.5 831.6,1429.9 838.9,1427.5C846.2,1425.1 855.9,1421.2 861.8,1418.6C867.8,1416.0 875.1,1412.4 874.1,1412.2C873.1,1411.9 862.3,1415.1 855.7,1417.1C849.2,1419.0 839.0,1422.8 835.1,1423.6C831.1,1424.5 832.4,1422.8 832.0,1422.1C831.6,1421.4 829.8,1422.2 832.8,1419.5C835.7,1416.8 843.7,1410.1 849.6,1406.0C855.5,1402.0 864.4,1398.1 868.0,1395.3C871.6,1392.5 873.1,1391.8 871.0,1389.2C869.0,1386.6 862.4,1382.3 855.7,1380.0C849.0,1377.7 839.2,1377.0 831.2,1375.4C823.3,1373.9 815.7,1373.1 808.3,1370.8C800.8,1368.6 790.7,1363.8 786.8,1361.9C783.0,1360.1 785.2,1360.4 785.3,1359.8C785.4,1359.2 783.7,1357.8 787.6,1358.6C791.5,1359.3 800.4,1363.3 808.3,1364.4C816.1,1365.5 826.3,1365.7 834.3,1365.0C842.3,1364.3 849.8,1362.7 855.7,1360.4C861.6,1358.1 869.5,1352.8 869.5,1351.2C869.5,1349.6 859.7,1352.0 855.7,1350.9C851.7,1349.9 847.7,1346.4 845.8,1345.1C843.8,1343.8 844.1,1343.6 844.2,1343.0C844.4,1342.3 844.3,1341.4 846.5,1341.4C848.7,1341.5 853.6,1343.9 857.2,1343.3C860.8,1342.6 865.9,1339.8 868.0,1337.5C870.0,1335.1 871.9,1333.1 869.5,1329.5C867.1,1325.8 857.5,1320.9 853.4,1315.7C849.4,1310.6 846.9,1303.1 845.3,1298.9C843.7,1294.6 843.7,1292.3 843.8,1290.5C843.9,1288.7 845.0,1288.3 845.8,1288.2C846.5,1288.0 846.4,1286.8 848.4,1289.4C850.3,1292.0 854.0,1298.7 857.2,1303.5C860.5,1308.3 864.1,1314.5 868.0,1318.0C871.8,1321.5 879.2,1325.0 880.2,1324.1C881.2,1323.2 876.5,1316.1 874.1,1312.7C871.7,1309.2 867.5,1305.6 866.1,1303.8C864.7,1301.9 865.3,1302.2 865.7,1301.6C866.0,1301.1 865.3,1299.8 868.3,1300.4C871.2,1301.0 878.6,1302.9 883.3,1305.0C888.0,1307.1 894.7,1315.0 896.3,1312.7C897.8,1310.3 895.2,1298.7 892.5,1291.2C889.8,1283.8 885.0,1275.6 880.2,1268.3C875.4,1260.9 866.2,1251.6 863.7,1247.6C861.1,1243.6 863.7,1244.9 864.9,1244.5Z" fill="url(#gDC)"/>
<circle cx="931.50" cy="1375.40" r="43.80" fill="url(#gDCn)"/>
<path d="M832.3,1355.8 C900,1328 990,1308 1062,1297.3" fill="none" stroke="#555" stroke-width="1.9"/>
<path d="M1078.0,1295.0 L1059.5,1306.0 L1064.2,1297.2 L1057.0,1290.2Z" fill="#5e5e5e"/>
<path d="M903.7,1430.3 C1000,1420 1105,1450 1117,1562" fill="none" stroke="#ff3510" stroke-width="1.8"/>
<path d="M1120.2,1581.2 L1110.3,1560.8 L1119.2,1566.5 L1127.2,1559.7Z" fill="#ff3510"/>
<g transform="translate(782.4 1391.0) rotate(-31.5)">
<path d="M6.5,-4.7 L40.1,-4.7 Q43.1,0 40.1,4.7 L6.5,4.7Z" fill="url(#gSnpS)" stroke="#222" stroke-width="1.2"/>
<path d="M-9.9,-6.4 A11.8,11.8 0 1 1 -9.9,6.4 A6.5,6.5 0 0 0 -9.9,-6.4Z" fill="url(#gSnpH)" stroke="#222" stroke-width="1.2" stroke-linejoin="round"/>
</g>
<g transform="translate(860.5 1464.0) rotate(-50.7)">
<path d="M6.5,-4.7 L43.1,-4.7 Q46.1,0 43.1,4.7 L6.5,4.7Z" fill="url(#gP2)" stroke="#2a1800" stroke-width="1.1"/>
<path d="M-9.9,-6.4 A11.8,11.8 0 1 1 -9.9,6.4 A6.5,6.5 0 0 0 -9.9,-6.4Z" fill="url(#gP2)" stroke="#2a1800" stroke-width="1.1" stroke-linejoin="round"/>
</g>
<g transform="translate(883.3 1474.9) rotate(-50.7)">
<path d="M6.5,-4.7 L43.1,-4.7 Q46.1,0 43.1,4.7 L6.5,4.7Z" fill="url(#gP2)" stroke="#2a1800" stroke-width="1.1"/>
<path d="M-9.9,-6.4 A11.8,11.8 0 1 1 -9.9,6.4 A6.5,6.5 0 0 0 -9.9,-6.4Z" fill="url(#gP2)" stroke="#2a1800" stroke-width="1.1" stroke-linejoin="round"/>
</g>
<circle cx="1159.70" cy="1302.90" r="59.90" fill="url(#gTg)"/>
<circle cx="1168.50" cy="1294.10" r="39.60" fill="url(#gTgn)"/>
<circle cx="1096.70" cy="1645.00" r="59.90" fill="url(#gTp)"/>
<circle cx="1105.10" cy="1636.10" r="39.50" fill="url(#gTpn)"/>
<circle cx="1207.00" cy="1566.60" r="62.00" fill="url(#gTp)"/>
<circle cx="1215.40" cy="1557.80" r="40.80" fill="url(#gTpn)"/>
<circle cx="1211.70" cy="1697.50" r="61.50" fill="url(#gTp)"/>
<circle cx="1220.00" cy="1688.00" r="40.50" fill="url(#gTpn)"/>
<circle cx="1297.80" cy="1594.50" r="6.60" fill="url(#gIfn)" stroke="#000" stroke-width="2.2"/>
<circle cx="1279.50" cy="1616.60" r="6.60" fill="url(#gIfn)" stroke="#000" stroke-width="2.2"/>
<circle cx="1304.10" cy="1619.10" r="6.60" fill="url(#gIfn)" stroke="#000" stroke-width="2.2"/>
<circle cx="1286.50" cy="1640.10" r="6.60" fill="url(#gIfn)" stroke="#000" stroke-width="2.2"/>
<path d="M1299.5,1634.5 C1335,1640 1361,1660 1363.2,1700 L1361.6,1700 C1359,1662 1334,1642 1299.5,1634.7Z" fill="#ff5a1f" stroke="#ff5a1f" stroke-width="0.5"/>
<path d="M1364.9,1717.5 L1355.4,1696.8 L1364.4,1702.8 L1372.9,1696.2Z" fill="#ff5a1f"/>
<ellipse cx="1439.2" cy="1750.2" rx="48.6" ry="21.7" fill="url(#gRes)"/>
<ellipse cx="1442.6" cy="1759.6" rx="23.4" ry="10.3" fill="url(#gResN)"/>
<ellipse cx="1363.7" cy="1754.9" rx="48.6" ry="22.1" fill="url(#gRes)"/>
<ellipse cx="1364.6" cy="1765" rx="23.4" ry="10.3" fill="url(#gResN)"/>
<ellipse cx="1519.8" cy="1748.2" rx="49.3" ry="21.7" fill="url(#gRes)"/>
<ellipse cx="1521.2" cy="1758.1" rx="23.4" ry="10.3" fill="url(#gResN)"/>
<ellipse cx="1489.5" cy="1786.7" rx="48" ry="21.9" fill="url(#gRes)"/>
<ellipse cx="1485.5" cy="1796.2" rx="23.4" ry="10.3" fill="url(#gResN)"/>
<ellipse cx="1407.4" cy="1786.2" rx="48.6" ry="21.8" fill="url(#gRes)"/>
<ellipse cx="1408.5" cy="1795.4" rx="23.4" ry="10.3" fill="url(#gResN)"/>
</g>
</svg>
</body></html>
